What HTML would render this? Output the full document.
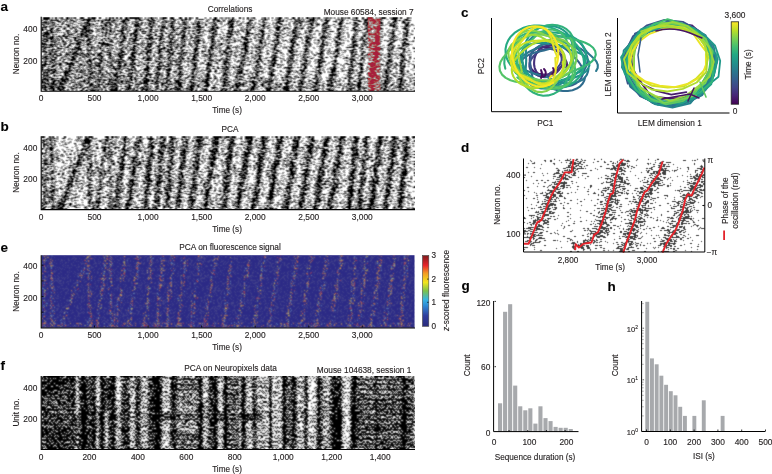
<!DOCTYPE html><html><head><meta charset="utf-8"><style>html,body{margin:0;padding:0;background:#fff;overflow:hidden}svg{display:block}</style></head><body>
<svg width="772" height="474" viewBox="0 0 772 474" font-family="Liberation Sans, sans-serif">
<defs><linearGradient id="ga" gradientUnits="userSpaceOnUse" x1="41" y1="0" x2="415" y2="0"><stop offset="0" stop-color="#000" stop-opacity="0.3"/><stop offset="0.3" stop-color="#000" stop-opacity="0.18"/><stop offset="0.6" stop-color="#000" stop-opacity="0.06"/><stop offset="0.8" stop-color="#000" stop-opacity="0"/></linearGradient><filter id="ra" x="41.5" y="17.2" width="373.5" height="73.8" filterUnits="userSpaceOnUse" color-interpolation-filters="sRGB">
<feTurbulence type="fractalNoise" baseFrequency="0.85 2.3" numOctaves="2" seed="11" result="n0"/>
<feColorMatrix in="n0" type="matrix" values="1 0 0 0 0  1 0 0 0 0  1 0 0 0 0  0 0 0 0 1" result="n1"/>
<feComponentTransfer in="n1" result="n2"><feFuncR type="table" tableValues="1.000 1.000 1.000 1.000 1.000 1.000 0.998 0.995 0.986 0.969 0.942 0.901 0.849 0.783 0.704 0.610 0.516 0.387 0.293 0.215 0.151 0.099 0.061 0.033 0.016 0.007 0.002 0.001 0.000 0.000 0.000 0.000 0.000"/><feFuncG type="table" tableValues="1.000 1.000 1.000 1.000 1.000 1.000 0.998 0.995 0.986 0.969 0.942 0.901 0.849 0.783 0.704 0.610 0.516 0.387 0.293 0.215 0.151 0.099 0.061 0.033 0.016 0.007 0.002 0.001 0.000 0.000 0.000 0.000 0.000"/><feFuncB type="table" tableValues="1.000 1.000 1.000 1.000 1.000 1.000 0.998 0.995 0.986 0.969 0.942 0.901 0.849 0.783 0.704 0.610 0.516 0.387 0.293 0.215 0.151 0.099 0.061 0.033 0.016 0.007 0.002 0.001 0.000 0.000 0.000 0.000 0.000"/></feComponentTransfer>
<feComposite in="SourceGraphic" in2="n2" operator="arithmetic" k1="0" k2="1" k3="1" k4="-0.5" result="d"/>
<feComponentTransfer in="d" result="t"><feFuncR type="discrete" tableValues="0 1"/><feFuncG type="discrete" tableValues="0 1"/><feFuncB type="discrete" tableValues="0 1"/><feFuncA type="linear" slope="0" intercept="1"/></feComponentTransfer>
<feConvolveMatrix in="t" order="3 3" kernelMatrix="1 2 1 4 6 4 1 2 1" divisor="22" edgeMode="duplicate"/>
</filter><filter id="rb" x="41.5" y="136.3" width="373.5" height="73.2" filterUnits="userSpaceOnUse" color-interpolation-filters="sRGB">
<feTurbulence type="fractalNoise" baseFrequency="0.85 2.3" numOctaves="2" seed="23" result="n0"/>
<feColorMatrix in="n0" type="matrix" values="1 0 0 0 0  1 0 0 0 0  1 0 0 0 0  0 0 0 0 1" result="n1"/>
<feComponentTransfer in="n1" result="n2"><feFuncR type="table" tableValues="1.000 1.000 1.000 1.000 1.000 1.000 0.998 0.995 0.986 0.969 0.942 0.901 0.849 0.783 0.704 0.610 0.516 0.387 0.293 0.215 0.151 0.099 0.061 0.033 0.016 0.007 0.002 0.001 0.000 0.000 0.000 0.000 0.000"/><feFuncG type="table" tableValues="1.000 1.000 1.000 1.000 1.000 1.000 0.998 0.995 0.986 0.969 0.942 0.901 0.849 0.783 0.704 0.610 0.516 0.387 0.293 0.215 0.151 0.099 0.061 0.033 0.016 0.007 0.002 0.001 0.000 0.000 0.000 0.000 0.000"/><feFuncB type="table" tableValues="1.000 1.000 1.000 1.000 1.000 1.000 0.998 0.995 0.986 0.969 0.942 0.901 0.849 0.783 0.704 0.610 0.516 0.387 0.293 0.215 0.151 0.099 0.061 0.033 0.016 0.007 0.002 0.001 0.000 0.000 0.000 0.000 0.000"/></feComponentTransfer>
<feComposite in="SourceGraphic" in2="n2" operator="arithmetic" k1="0" k2="1" k3="1" k4="-0.5" result="d"/>
<feComponentTransfer in="d" result="t"><feFuncR type="discrete" tableValues="0 1"/><feFuncG type="discrete" tableValues="0 1"/><feFuncB type="discrete" tableValues="0 1"/><feFuncA type="linear" slope="0" intercept="1"/></feComponentTransfer>
<feConvolveMatrix in="t" order="3 3" kernelMatrix="1 2 1 4 6 4 1 2 1" divisor="22" edgeMode="duplicate"/>
</filter><filter id="se0" x="41.5" y="255.2" width="373.0" height="72.60000000000002" filterUnits="userSpaceOnUse" color-interpolation-filters="sRGB">
<feTurbulence type="fractalNoise" baseFrequency="0.7 1.6" numOctaves="1" seed="3" result="n0"/>
<feColorMatrix in="n0" type="matrix" values="1 0 0 0 0  1 0 0 0 0  1 0 0 0 0  0 0 0 0 1" result="n1"/>
<feComponentTransfer in="n1" result="n2"><feFuncR type="table" tableValues="1.000 1.000 1.000 1.000 1.000 1.000 0.998 0.995 0.986 0.969 0.942 0.901 0.849 0.783 0.704 0.610 0.516 0.387 0.293 0.215 0.151 0.099 0.061 0.033 0.016 0.007 0.002 0.001 0.000 0.000 0.000 0.000 0.000"/><feFuncG type="table" tableValues="1.000 1.000 1.000 1.000 1.000 1.000 0.998 0.995 0.986 0.969 0.942 0.901 0.849 0.783 0.704 0.610 0.516 0.387 0.293 0.215 0.151 0.099 0.061 0.033 0.016 0.007 0.002 0.001 0.000 0.000 0.000 0.000 0.000"/><feFuncB type="table" tableValues="1.000 1.000 1.000 1.000 1.000 1.000 0.998 0.995 0.986 0.969 0.942 0.901 0.849 0.783 0.704 0.610 0.516 0.387 0.293 0.215 0.151 0.099 0.061 0.033 0.016 0.007 0.002 0.001 0.000 0.000 0.000 0.000 0.000"/></feComponentTransfer>
<feComposite in="SourceGraphic" in2="n2" operator="arithmetic" k1="0" k2="1" k3="1" k4="-0.5" result="d"/>
<feComponentTransfer in="d" result="t"><feFuncR type="discrete" tableValues="0 1"/><feFuncG type="discrete" tableValues="0 1"/><feFuncB type="discrete" tableValues="0 1"/><feFuncA type="linear" slope="0" intercept="1"/></feComponentTransfer>
<feColorMatrix in="t" type="matrix" values="0 0 0 0 0.29  0 0 0 0 0.29  0 0 0 0 0.55  -0.85 0 0 0 0.85" result="c"/>
<feConvolveMatrix in="c" order="3" kernelMatrix="1 2 1 2 6 2 1 2 1" divisor="18" edgeMode="none"/>
</filter><filter id="se1" x="41.5" y="255.2" width="373.0" height="72.60000000000002" filterUnits="userSpaceOnUse" color-interpolation-filters="sRGB">
<feTurbulence type="fractalNoise" baseFrequency="0.7 1.6" numOctaves="1" seed="5" result="n0"/>
<feColorMatrix in="n0" type="matrix" values="1 0 0 0 0  1 0 0 0 0  1 0 0 0 0  0 0 0 0 1" result="n1"/>
<feComponentTransfer in="n1" result="n2"><feFuncR type="table" tableValues="1.000 1.000 1.000 1.000 1.000 1.000 0.998 0.995 0.986 0.969 0.942 0.901 0.849 0.783 0.704 0.610 0.516 0.387 0.293 0.215 0.151 0.099 0.061 0.033 0.016 0.007 0.002 0.001 0.000 0.000 0.000 0.000 0.000"/><feFuncG type="table" tableValues="1.000 1.000 1.000 1.000 1.000 1.000 0.998 0.995 0.986 0.969 0.942 0.901 0.849 0.783 0.704 0.610 0.516 0.387 0.293 0.215 0.151 0.099 0.061 0.033 0.016 0.007 0.002 0.001 0.000 0.000 0.000 0.000 0.000"/><feFuncB type="table" tableValues="1.000 1.000 1.000 1.000 1.000 1.000 0.998 0.995 0.986 0.969 0.942 0.901 0.849 0.783 0.704 0.610 0.516 0.387 0.293 0.215 0.151 0.099 0.061 0.033 0.016 0.007 0.002 0.001 0.000 0.000 0.000 0.000 0.000"/></feComponentTransfer>
<feComposite in="SourceGraphic" in2="n2" operator="arithmetic" k1="0" k2="1" k3="1" k4="-0.5" result="d"/>
<feComponentTransfer in="d" result="t"><feFuncR type="discrete" tableValues="0 1"/><feFuncG type="discrete" tableValues="0 1"/><feFuncB type="discrete" tableValues="0 1"/><feFuncA type="linear" slope="0" intercept="1"/></feComponentTransfer>
<feColorMatrix in="t" type="matrix" values="0 0 0 0 0.8  0 0 0 0 0.5  0 0 0 0 0.3  -0.85 0 0 0 0.85" result="c"/>
<feConvolveMatrix in="c" order="3" kernelMatrix="1 2 1 2 6 2 1 2 1" divisor="18" edgeMode="none"/>
</filter><filter id="se2" x="41.5" y="255.2" width="373.0" height="72.60000000000002" filterUnits="userSpaceOnUse" color-interpolation-filters="sRGB">
<feTurbulence type="fractalNoise" baseFrequency="0.7 1.6" numOctaves="1" seed="17" result="n0"/>
<feColorMatrix in="n0" type="matrix" values="1 0 0 0 0  1 0 0 0 0  1 0 0 0 0  0 0 0 0 1" result="n1"/>
<feComponentTransfer in="n1" result="n2"><feFuncR type="table" tableValues="1.000 1.000 1.000 1.000 1.000 1.000 0.998 0.995 0.986 0.969 0.942 0.901 0.849 0.783 0.704 0.610 0.516 0.387 0.293 0.215 0.151 0.099 0.061 0.033 0.016 0.007 0.002 0.001 0.000 0.000 0.000 0.000 0.000"/><feFuncG type="table" tableValues="1.000 1.000 1.000 1.000 1.000 1.000 0.998 0.995 0.986 0.969 0.942 0.901 0.849 0.783 0.704 0.610 0.516 0.387 0.293 0.215 0.151 0.099 0.061 0.033 0.016 0.007 0.002 0.001 0.000 0.000 0.000 0.000 0.000"/><feFuncB type="table" tableValues="1.000 1.000 1.000 1.000 1.000 1.000 0.998 0.995 0.986 0.969 0.942 0.901 0.849 0.783 0.704 0.610 0.516 0.387 0.293 0.215 0.151 0.099 0.061 0.033 0.016 0.007 0.002 0.001 0.000 0.000 0.000 0.000 0.000"/></feComponentTransfer>
<feComposite in="SourceGraphic" in2="n2" operator="arithmetic" k1="0" k2="1" k3="1" k4="-0.5" result="d"/>
<feComponentTransfer in="d" result="t"><feFuncR type="discrete" tableValues="0 1"/><feFuncG type="discrete" tableValues="0 1"/><feFuncB type="discrete" tableValues="0 1"/><feFuncA type="linear" slope="0" intercept="1"/></feComponentTransfer>
<feColorMatrix in="t" type="matrix" values="0 0 0 0 0.4  0 0 0 0 0.55  0 0 0 0 0.72  -0.85 0 0 0 0.85" result="c"/>
<feConvolveMatrix in="c" order="3" kernelMatrix="1 2 1 2 6 2 1 2 1" divisor="18" edgeMode="none"/>
</filter><filter id="se3" x="41.5" y="255.2" width="373.0" height="72.60000000000002" filterUnits="userSpaceOnUse" color-interpolation-filters="sRGB">
<feTurbulence type="fractalNoise" baseFrequency="0.7 1.6" numOctaves="1" seed="29" result="n0"/>
<feColorMatrix in="n0" type="matrix" values="1 0 0 0 0  1 0 0 0 0  1 0 0 0 0  0 0 0 0 1" result="n1"/>
<feComponentTransfer in="n1" result="n2"><feFuncR type="table" tableValues="1.000 1.000 1.000 1.000 1.000 1.000 0.998 0.995 0.986 0.969 0.942 0.901 0.849 0.783 0.704 0.610 0.516 0.387 0.293 0.215 0.151 0.099 0.061 0.033 0.016 0.007 0.002 0.001 0.000 0.000 0.000 0.000 0.000"/><feFuncG type="table" tableValues="1.000 1.000 1.000 1.000 1.000 1.000 0.998 0.995 0.986 0.969 0.942 0.901 0.849 0.783 0.704 0.610 0.516 0.387 0.293 0.215 0.151 0.099 0.061 0.033 0.016 0.007 0.002 0.001 0.000 0.000 0.000 0.000 0.000"/><feFuncB type="table" tableValues="1.000 1.000 1.000 1.000 1.000 1.000 0.998 0.995 0.986 0.969 0.942 0.901 0.849 0.783 0.704 0.610 0.516 0.387 0.293 0.215 0.151 0.099 0.061 0.033 0.016 0.007 0.002 0.001 0.000 0.000 0.000 0.000 0.000"/></feComponentTransfer>
<feComposite in="SourceGraphic" in2="n2" operator="arithmetic" k1="0" k2="1" k3="1" k4="-0.5" result="d"/>
<feComponentTransfer in="d" result="t"><feFuncR type="discrete" tableValues="0 1"/><feFuncG type="discrete" tableValues="0 1"/><feFuncB type="discrete" tableValues="0 1"/><feFuncA type="linear" slope="0" intercept="1"/></feComponentTransfer>
<feColorMatrix in="t" type="matrix" values="0 0 0 0 0.75  0 0 0 0 0.25  0 0 0 0 0.3  -0.85 0 0 0 0.85" result="c"/>
<feConvolveMatrix in="c" order="3" kernelMatrix="1 2 1 2 6 2 1 2 1" divisor="18" edgeMode="none"/>
</filter><filter id="se4" x="41.5" y="255.2" width="373.0" height="72.60000000000002" filterUnits="userSpaceOnUse" color-interpolation-filters="sRGB">
<feTurbulence type="fractalNoise" baseFrequency="0.7 1.6" numOctaves="1" seed="31" result="n0"/>
<feColorMatrix in="n0" type="matrix" values="1 0 0 0 0  1 0 0 0 0  1 0 0 0 0  0 0 0 0 1" result="n1"/>
<feComponentTransfer in="n1" result="n2"><feFuncR type="table" tableValues="1.000 1.000 1.000 1.000 1.000 1.000 0.998 0.995 0.986 0.969 0.942 0.901 0.849 0.783 0.704 0.610 0.516 0.387 0.293 0.215 0.151 0.099 0.061 0.033 0.016 0.007 0.002 0.001 0.000 0.000 0.000 0.000 0.000"/><feFuncG type="table" tableValues="1.000 1.000 1.000 1.000 1.000 1.000 0.998 0.995 0.986 0.969 0.942 0.901 0.849 0.783 0.704 0.610 0.516 0.387 0.293 0.215 0.151 0.099 0.061 0.033 0.016 0.007 0.002 0.001 0.000 0.000 0.000 0.000 0.000"/><feFuncB type="table" tableValues="1.000 1.000 1.000 1.000 1.000 1.000 0.998 0.995 0.986 0.969 0.942 0.901 0.849 0.783 0.704 0.610 0.516 0.387 0.293 0.215 0.151 0.099 0.061 0.033 0.016 0.007 0.002 0.001 0.000 0.000 0.000 0.000 0.000"/></feComponentTransfer>
<feComposite in="SourceGraphic" in2="n2" operator="arithmetic" k1="0" k2="1" k3="1" k4="-0.5" result="d"/>
<feComponentTransfer in="d" result="t"><feFuncR type="discrete" tableValues="0 1"/><feFuncG type="discrete" tableValues="0 1"/><feFuncB type="discrete" tableValues="0 1"/><feFuncA type="linear" slope="0" intercept="1"/></feComponentTransfer>
<feColorMatrix in="t" type="matrix" values="0 0 0 0 0.75  0 0 0 0 0.72  0 0 0 0 0.35  -0.85 0 0 0 0.85" result="c"/>
<feConvolveMatrix in="c" order="3" kernelMatrix="1 2 1 2 6 2 1 2 1" divisor="18" edgeMode="none"/>
</filter><linearGradient id="jet" x1="0" y1="1" x2="0" y2="0">
<stop offset="0" stop-color="#2a2a7c"/><stop offset="0.15" stop-color="#2f3e9e"/><stop offset="0.3" stop-color="#2f8fd8"/>
<stop offset="0.38" stop-color="#38b6e0"/><stop offset="0.5" stop-color="#7cc24a"/><stop offset="0.62" stop-color="#f2e51c"/>
<stop offset="0.75" stop-color="#f39a22"/><stop offset="0.86" stop-color="#e8242a"/><stop offset="1" stop-color="#7e1a1c"/></linearGradient><filter id="rf" x="41.5" y="376" width="373.5" height="73.19999999999999" filterUnits="userSpaceOnUse" color-interpolation-filters="sRGB">
<feTurbulence type="fractalNoise" baseFrequency="1.0 0.6" numOctaves="2" seed="37" result="n0"/>
<feColorMatrix in="n0" type="matrix" values="1 0 0 0 0  1 0 0 0 0  1 0 0 0 0  0 0 0 0 1" result="n1"/>
<feComponentTransfer in="n1" result="n2"><feFuncR type="table" tableValues="1.000 1.000 1.000 1.000 1.000 1.000 0.998 0.995 0.986 0.969 0.942 0.901 0.849 0.783 0.704 0.610 0.516 0.387 0.293 0.215 0.151 0.099 0.061 0.033 0.016 0.007 0.002 0.001 0.000 0.000 0.000 0.000 0.000"/><feFuncG type="table" tableValues="1.000 1.000 1.000 1.000 1.000 1.000 0.998 0.995 0.986 0.969 0.942 0.901 0.849 0.783 0.704 0.610 0.516 0.387 0.293 0.215 0.151 0.099 0.061 0.033 0.016 0.007 0.002 0.001 0.000 0.000 0.000 0.000 0.000"/><feFuncB type="table" tableValues="1.000 1.000 1.000 1.000 1.000 1.000 0.998 0.995 0.986 0.969 0.942 0.901 0.849 0.783 0.704 0.610 0.516 0.387 0.293 0.215 0.151 0.099 0.061 0.033 0.016 0.007 0.002 0.001 0.000 0.000 0.000 0.000 0.000"/></feComponentTransfer>
<feComposite in="SourceGraphic" in2="n2" operator="arithmetic" k1="0" k2="1" k3="1" k4="-0.5" result="d"/>
<feComponentTransfer in="d" result="t"><feFuncR type="discrete" tableValues="0 1"/><feFuncG type="discrete" tableValues="0 1"/><feFuncB type="discrete" tableValues="0 1"/><feFuncA type="linear" slope="0" intercept="1"/></feComponentTransfer>
<feConvolveMatrix in="t" order="3" kernelMatrix="1 2 1 2 6 2 1 2 1" divisor="18" edgeMode="duplicate"/>
</filter><linearGradient id="vir" x1="0" y1="1" x2="0" y2="0"><stop offset="0.0" stop-color="#440154"/><stop offset="0.1" stop-color="#482475"/><stop offset="0.2" stop-color="#414487"/><stop offset="0.3" stop-color="#355f8d"/><stop offset="0.4" stop-color="#2a788e"/><stop offset="0.5" stop-color="#21918c"/><stop offset="0.6" stop-color="#22a884"/><stop offset="0.7" stop-color="#44bf70"/><stop offset="0.8" stop-color="#7ad151"/><stop offset="0.9" stop-color="#bddf26"/><stop offset="1.0" stop-color="#fde725"/></linearGradient><filter id="rd" x="524" y="158.7" width="180.5" height="93.3" filterUnits="userSpaceOnUse" color-interpolation-filters="sRGB">
<feTurbulence type="fractalNoise" baseFrequency="0.3 1.6" numOctaves="2" seed="41" result="n0"/>
<feColorMatrix in="n0" type="matrix" values="1 0 0 0 0  1 0 0 0 0  1 0 0 0 0  0 0 0 0 1" result="n1"/>
<feComponentTransfer in="n1" result="n2"><feFuncR type="table" tableValues="1.000 1.000 1.000 1.000 1.000 1.000 0.998 0.995 0.986 0.969 0.942 0.901 0.849 0.783 0.704 0.610 0.516 0.387 0.293 0.215 0.151 0.099 0.061 0.033 0.016 0.007 0.002 0.001 0.000 0.000 0.000 0.000 0.000"/><feFuncG type="table" tableValues="1.000 1.000 1.000 1.000 1.000 1.000 0.998 0.995 0.986 0.969 0.942 0.901 0.849 0.783 0.704 0.610 0.516 0.387 0.293 0.215 0.151 0.099 0.061 0.033 0.016 0.007 0.002 0.001 0.000 0.000 0.000 0.000 0.000"/><feFuncB type="table" tableValues="1.000 1.000 1.000 1.000 1.000 1.000 0.998 0.995 0.986 0.969 0.942 0.901 0.849 0.783 0.704 0.610 0.516 0.387 0.293 0.215 0.151 0.099 0.061 0.033 0.016 0.007 0.002 0.001 0.000 0.000 0.000 0.000 0.000"/></feComponentTransfer>
<feComposite in="SourceGraphic" in2="n2" operator="arithmetic" k1="0" k2="1" k3="1" k4="-0.5" result="d"/>
<feComponentTransfer in="d" result="t"><feFuncR type="discrete" tableValues="0 1"/><feFuncG type="discrete" tableValues="0 1"/><feFuncB type="discrete" tableValues="0 1"/><feFuncA type="linear" slope="0" intercept="1"/></feComponentTransfer>
<feConvolveMatrix in="t" order="3" kernelMatrix="0 1 0 1 6 1 0 1 0" divisor="10" edgeMode="duplicate"/>
</filter><filter id="blur8" x="-10%" y="-10%" width="120%" height="120%"><feGaussianBlur stdDeviation="0.8"/></filter><filter id="blur12" x="-10%" y="-10%" width="120%" height="120%"><feGaussianBlur stdDeviation="1.2"/></filter><filter id="blur35" x="-10%" y="-10%" width="120%" height="120%"><feGaussianBlur stdDeviation="3.5"/></filter><filter id="blur10" x="-10%" y="-10%" width="120%" height="120%"><feGaussianBlur stdDeviation="1.0"/></filter></defs>
<rect width="772" height="474" fill="#fff"/><svg x="41.5" y="17.2" width="373.5" height="73.8" viewBox="41.5 17.2 373.5 73.8" overflow="hidden"><g filter="url(#ra)"><rect x="36.5" y="12.2" width="383.5" height="83.8" fill="rgb(212,212,212)"/><g filter="url(#blur12)"><polygon points="42.0,94.0 47.0,94.0 47.0,14.2 42.0,14.2" fill="#000" fill-opacity="0.4675"/><polygon points="51.1,94.0 55.1,94.0 52.9,14.2 48.9,14.2" fill="#000" fill-opacity="0.51"/><polygon points="56.1,94.0 61.6,94.0 92.9,14.2 87.4,14.2" fill="#000" fill-opacity="0.68"/><polygon points="88.8,94.0 92.3,94.0 90.2,14.2 86.7,14.2" fill="#000" fill-opacity="0.5525"/><polygon points="94.6,94.0 98.6,94.0 108.4,14.2 104.4,14.2" fill="#000" fill-opacity="0.51"/><polygon points="109.5,94.0 112.5,94.0 111.5,14.2 108.5,14.2" fill="#000" fill-opacity="0.51"/><polygon points="112.8,94.0 117.3,94.0 128.2,14.2 123.7,14.2" fill="#000" fill-opacity="0.68"/><polygon points="125.8,94.0 130.3,94.0 141.2,14.2 136.7,14.2" fill="#000" fill-opacity="0.7224999999999999"/><polygon points="142.5,94.0 147.0,94.0 154.5,14.2 150.0,14.2" fill="#000" fill-opacity="0.68"/><polygon points="154.2,94.0 158.2,94.0 165.3,14.2 161.3,14.2" fill="#000" fill-opacity="0.68"/><polygon points="164.2,94.0 168.2,94.0 175.3,14.2 171.3,14.2" fill="#000" fill-opacity="0.68"/><polygon points="175.4,94.0 179.9,94.0 188.1,14.2 183.6,14.2" fill="#000" fill-opacity="0.7224999999999999"/><polygon points="188.4,94.0 192.9,94.0 202.6,14.2 198.1,14.2" fill="#000" fill-opacity="0.7224999999999999"/><polygon points="202.3,94.0 206.8,94.0 218.7,14.2 214.2,14.2" fill="#000" fill-opacity="0.765"/><polygon points="220.9,94.0 225.4,94.0 234.6,14.2 230.1,14.2" fill="#000" fill-opacity="0.765"/><polygon points="234.2,94.0 238.7,94.0 253.3,14.2 248.8,14.2" fill="#000" fill-opacity="0.765"/><polygon points="250.8,94.0 255.3,94.0 267.7,14.2 263.2,14.2" fill="#000" fill-opacity="0.765"/><polygon points="265.8,94.0 270.3,94.0 282.7,14.2 278.2,14.2" fill="#000" fill-opacity="0.765"/><polygon points="283.3,94.0 287.8,94.0 300.2,14.2 295.7,14.2" fill="#000" fill-opacity="0.765"/><polygon points="297.8,94.0 302.3,94.0 314.7,14.2 310.2,14.2" fill="#000" fill-opacity="0.765"/><polygon points="312.8,94.0 317.3,94.0 329.7,14.2 325.2,14.2" fill="#000" fill-opacity="0.765"/><polygon points="327.3,94.0 331.8,94.0 344.7,14.2 340.2,14.2" fill="#000" fill-opacity="0.765"/><polygon points="346.4,94.0 350.9,94.0 359.1,14.2 354.6,14.2" fill="#000" fill-opacity="0.765"/><polygon points="356.7,94.0 360.7,94.0 369.3,14.2 365.3,14.2" fill="#000" fill-opacity="0.7224999999999999"/><polygon points="368.4,94.0 372.9,94.0 383.1,14.2 378.6,14.2" fill="#000" fill-opacity="0.765"/><polygon points="382.3,94.0 386.8,94.0 397.7,14.2 393.2,14.2" fill="#000" fill-opacity="0.765"/><polygon points="397.5,94.0 402.0,94.0 409.5,14.2 405.0,14.2" fill="#000" fill-opacity="0.765"/></g><rect x="41.5" y="79.0" width="373.5" height="12" fill="#000" fill-opacity="0.15" filter="url(#blur12)"/><rect x="36.5" y="12.2" width="383.5" height="83.8" fill="url(#ga)"/><rect x="41.5" y="17.2" width="373.5" height="4" fill="#000" fill-opacity="0.06"/><rect x="367.7" y="17.2" width="12.8" height="73.8" fill="#000" fill-opacity="0.45"/></g></svg><rect x="367.7" y="17.2" width="12.8" height="73.8" fill="#a81f3d" style="mix-blend-mode:lighten"/><svg x="41.5" y="136.3" width="373.5" height="73.2" viewBox="41.5 136.3 373.5 73.2" overflow="hidden"><g filter="url(#rb)"><rect x="36.5" y="131.3" width="383.5" height="83.2" fill="rgb(199,199,199)"/><g filter="url(#blur12)"><polygon points="41.5,212.5 47.5,212.5 47.5,133.3 41.5,133.3" fill="#000" fill-opacity="0.49500000000000005"/><polygon points="50.6,212.5 55.6,212.5 53.4,133.3 48.4,133.3" fill="#000" fill-opacity="0.54"/><polygon points="55.6,212.5 62.1,212.5 93.4,133.3 86.9,133.3" fill="#000" fill-opacity="0.7200000000000001"/><polygon points="88.3,212.5 92.8,212.5 90.7,133.3 86.2,133.3" fill="#000" fill-opacity="0.5850000000000001"/><polygon points="94.1,212.5 99.1,212.5 108.9,133.3 103.9,133.3" fill="#000" fill-opacity="0.54"/><polygon points="109.0,212.5 113.0,212.5 112.0,133.3 108.0,133.3" fill="#000" fill-opacity="0.54"/><polygon points="112.3,212.5 117.8,212.5 128.7,133.3 123.2,133.3" fill="#000" fill-opacity="0.7200000000000001"/><polygon points="125.3,212.5 130.8,212.5 141.7,133.3 136.2,133.3" fill="#000" fill-opacity="0.765"/><polygon points="142.0,212.5 147.5,212.5 155.0,133.3 149.5,133.3" fill="#000" fill-opacity="0.7200000000000001"/><polygon points="153.7,212.5 158.7,212.5 165.8,133.3 160.8,133.3" fill="#000" fill-opacity="0.7200000000000001"/><polygon points="163.7,212.5 168.7,212.5 175.8,133.3 170.8,133.3" fill="#000" fill-opacity="0.7200000000000001"/><polygon points="174.9,212.5 180.4,212.5 188.6,133.3 183.1,133.3" fill="#000" fill-opacity="0.765"/><polygon points="187.9,212.5 193.4,212.5 203.1,133.3 197.6,133.3" fill="#000" fill-opacity="0.765"/><polygon points="201.8,212.5 207.3,212.5 219.2,133.3 213.7,133.3" fill="#000" fill-opacity="0.81"/><polygon points="220.4,212.5 225.9,212.5 235.1,133.3 229.6,133.3" fill="#000" fill-opacity="0.81"/><polygon points="233.7,212.5 239.2,212.5 253.8,133.3 248.3,133.3" fill="#000" fill-opacity="0.81"/><polygon points="250.3,212.5 255.8,212.5 268.2,133.3 262.7,133.3" fill="#000" fill-opacity="0.81"/><polygon points="265.3,212.5 270.8,212.5 283.2,133.3 277.7,133.3" fill="#000" fill-opacity="0.81"/><polygon points="282.8,212.5 288.3,212.5 300.7,133.3 295.2,133.3" fill="#000" fill-opacity="0.81"/><polygon points="297.3,212.5 302.8,212.5 315.2,133.3 309.7,133.3" fill="#000" fill-opacity="0.81"/><polygon points="312.3,212.5 317.8,212.5 330.2,133.3 324.7,133.3" fill="#000" fill-opacity="0.81"/><polygon points="326.8,212.5 332.3,212.5 345.2,133.3 339.7,133.3" fill="#000" fill-opacity="0.81"/><polygon points="345.9,212.5 351.4,212.5 359.6,133.3 354.1,133.3" fill="#000" fill-opacity="0.81"/><polygon points="356.2,212.5 361.2,212.5 369.8,133.3 364.8,133.3" fill="#000" fill-opacity="0.765"/><polygon points="367.9,212.5 373.4,212.5 383.6,133.3 378.1,133.3" fill="#000" fill-opacity="0.81"/><polygon points="381.8,212.5 387.3,212.5 398.2,133.3 392.7,133.3" fill="#000" fill-opacity="0.81"/><polygon points="397.0,212.5 402.5,212.5 410.0,133.3 404.5,133.3" fill="#000" fill-opacity="0.81"/></g></g></svg><path d="M41.2 16.8 V91.2 H415" stroke="#000" stroke-width="1.1" fill="none"/><path d="M41.2 136.3 V209.6 H415" stroke="#000" stroke-width="1.1" fill="none"/><rect x="41.5" y="255.2" width="373.0" height="72.60000000000002" fill="#2c2a86"/><svg x="41.5" y="255.2" width="373.0" height="72.60000000000002" viewBox="41.5 255.2 373.0 72.60000000000002" overflow="hidden"><g filter="url(#se0)"><rect x="36.5" y="250.2" width="383.0" height="82.60000000000002" fill="rgb(198,198,198)"/></g></svg><svg x="41.5" y="255.2" width="373.0" height="72.60000000000002" viewBox="41.5 255.2 373.0 72.60000000000002" overflow="hidden"><g filter="url(#se1)"><rect x="36.5" y="250.2" width="383.0" height="82.60000000000002" fill="#fff"/><g filter="url(#blur10)"><polygon points="42.9,330.8 46.1,330.8 46.1,252.2 42.9,252.2" fill="#000" fill-opacity="0.198"/><polygon points="51.5,330.8 54.7,330.8 52.5,252.2 49.3,252.2" fill="#000" fill-opacity="0.198"/><polygon points="57.2,330.8 60.4,330.8 91.8,252.2 88.6,252.2" fill="#000" fill-opacity="0.198"/><polygon points="89.0,330.8 92.2,330.8 90.0,252.2 86.8,252.2" fill="#000" fill-opacity="0.198"/><polygon points="95.0,330.8 98.2,330.8 108.0,252.2 104.8,252.2" fill="#000" fill-opacity="0.198"/><polygon points="109.4,330.8 112.6,330.8 111.6,252.2 108.4,252.2" fill="#000" fill-opacity="0.198"/><polygon points="113.5,330.8 116.7,330.8 127.5,252.2 124.3,252.2" fill="#000" fill-opacity="0.198"/><polygon points="126.5,330.8 129.7,330.8 140.5,252.2 137.3,252.2" fill="#000" fill-opacity="0.198"/><polygon points="143.1,330.8 146.3,330.8 153.9,252.2 150.7,252.2" fill="#000" fill-opacity="0.198"/><polygon points="154.6,330.8 157.8,330.8 164.9,252.2 161.7,252.2" fill="#000" fill-opacity="0.198"/><polygon points="164.6,330.8 167.8,330.8 174.9,252.2 171.7,252.2" fill="#000" fill-opacity="0.198"/><polygon points="176.1,330.8 179.3,330.8 187.4,252.2 184.2,252.2" fill="#000" fill-opacity="0.198"/><polygon points="189.0,330.8 192.2,330.8 202.0,252.2 198.8,252.2" fill="#000" fill-opacity="0.198"/><polygon points="202.9,330.8 206.1,330.8 218.1,252.2 214.9,252.2" fill="#000" fill-opacity="0.198"/><polygon points="221.5,330.8 224.7,330.8 234.0,252.2 230.8,252.2" fill="#000" fill-opacity="0.198"/><polygon points="234.8,330.8 238.0,330.8 252.7,252.2 249.5,252.2" fill="#000" fill-opacity="0.198"/><polygon points="251.4,330.8 254.6,330.8 267.1,252.2 263.9,252.2" fill="#000" fill-opacity="0.198"/><polygon points="266.4,330.8 269.6,330.8 282.1,252.2 278.9,252.2" fill="#000" fill-opacity="0.198"/><polygon points="283.9,330.8 287.1,330.8 299.6,252.2 296.4,252.2" fill="#000" fill-opacity="0.198"/><polygon points="298.4,330.8 301.6,330.8 314.1,252.2 310.9,252.2" fill="#000" fill-opacity="0.198"/><polygon points="313.4,330.8 316.6,330.8 329.1,252.2 325.9,252.2" fill="#000" fill-opacity="0.198"/><polygon points="327.9,330.8 331.1,330.8 344.1,252.2 340.9,252.2" fill="#000" fill-opacity="0.198"/><polygon points="347.1,330.8 350.3,330.8 358.4,252.2 355.2,252.2" fill="#000" fill-opacity="0.198"/><polygon points="357.1,330.8 360.3,330.8 368.9,252.2 365.7,252.2" fill="#000" fill-opacity="0.198"/><polygon points="369.0,330.8 372.2,330.8 382.5,252.2 379.3,252.2" fill="#000" fill-opacity="0.198"/><polygon points="383.0,330.8 386.2,330.8 397.0,252.2 393.8,252.2" fill="#000" fill-opacity="0.198"/><polygon points="398.1,330.8 401.3,330.8 408.9,252.2 405.7,252.2" fill="#000" fill-opacity="0.198"/></g><rect x="41.5" y="322.8" width="373.0" height="5" fill="#000" fill-opacity="0.072"/></g></svg><svg x="41.5" y="255.2" width="373.0" height="72.60000000000002" viewBox="41.5 255.2 373.0 72.60000000000002" overflow="hidden"><g filter="url(#se2)"><rect x="36.5" y="250.2" width="383.0" height="82.60000000000002" fill="#fff"/><g filter="url(#blur10)"><polygon points="42.9,330.8 46.1,330.8 46.1,252.2 42.9,252.2" fill="#000" fill-opacity="0.17600000000000002"/><polygon points="51.5,330.8 54.7,330.8 52.5,252.2 49.3,252.2" fill="#000" fill-opacity="0.17600000000000002"/><polygon points="57.2,330.8 60.4,330.8 91.8,252.2 88.6,252.2" fill="#000" fill-opacity="0.17600000000000002"/><polygon points="89.0,330.8 92.2,330.8 90.0,252.2 86.8,252.2" fill="#000" fill-opacity="0.17600000000000002"/><polygon points="95.0,330.8 98.2,330.8 108.0,252.2 104.8,252.2" fill="#000" fill-opacity="0.17600000000000002"/><polygon points="109.4,330.8 112.6,330.8 111.6,252.2 108.4,252.2" fill="#000" fill-opacity="0.17600000000000002"/><polygon points="113.5,330.8 116.7,330.8 127.5,252.2 124.3,252.2" fill="#000" fill-opacity="0.17600000000000002"/><polygon points="126.5,330.8 129.7,330.8 140.5,252.2 137.3,252.2" fill="#000" fill-opacity="0.17600000000000002"/><polygon points="143.1,330.8 146.3,330.8 153.9,252.2 150.7,252.2" fill="#000" fill-opacity="0.17600000000000002"/><polygon points="154.6,330.8 157.8,330.8 164.9,252.2 161.7,252.2" fill="#000" fill-opacity="0.17600000000000002"/><polygon points="164.6,330.8 167.8,330.8 174.9,252.2 171.7,252.2" fill="#000" fill-opacity="0.17600000000000002"/><polygon points="176.1,330.8 179.3,330.8 187.4,252.2 184.2,252.2" fill="#000" fill-opacity="0.17600000000000002"/><polygon points="189.0,330.8 192.2,330.8 202.0,252.2 198.8,252.2" fill="#000" fill-opacity="0.17600000000000002"/><polygon points="202.9,330.8 206.1,330.8 218.1,252.2 214.9,252.2" fill="#000" fill-opacity="0.17600000000000002"/><polygon points="221.5,330.8 224.7,330.8 234.0,252.2 230.8,252.2" fill="#000" fill-opacity="0.17600000000000002"/><polygon points="234.8,330.8 238.0,330.8 252.7,252.2 249.5,252.2" fill="#000" fill-opacity="0.17600000000000002"/><polygon points="251.4,330.8 254.6,330.8 267.1,252.2 263.9,252.2" fill="#000" fill-opacity="0.17600000000000002"/><polygon points="266.4,330.8 269.6,330.8 282.1,252.2 278.9,252.2" fill="#000" fill-opacity="0.17600000000000002"/><polygon points="283.9,330.8 287.1,330.8 299.6,252.2 296.4,252.2" fill="#000" fill-opacity="0.17600000000000002"/><polygon points="298.4,330.8 301.6,330.8 314.1,252.2 310.9,252.2" fill="#000" fill-opacity="0.17600000000000002"/><polygon points="313.4,330.8 316.6,330.8 329.1,252.2 325.9,252.2" fill="#000" fill-opacity="0.17600000000000002"/><polygon points="327.9,330.8 331.1,330.8 344.1,252.2 340.9,252.2" fill="#000" fill-opacity="0.17600000000000002"/><polygon points="347.1,330.8 350.3,330.8 358.4,252.2 355.2,252.2" fill="#000" fill-opacity="0.17600000000000002"/><polygon points="357.1,330.8 360.3,330.8 368.9,252.2 365.7,252.2" fill="#000" fill-opacity="0.17600000000000002"/><polygon points="369.0,330.8 372.2,330.8 382.5,252.2 379.3,252.2" fill="#000" fill-opacity="0.17600000000000002"/><polygon points="383.0,330.8 386.2,330.8 397.0,252.2 393.8,252.2" fill="#000" fill-opacity="0.17600000000000002"/><polygon points="398.1,330.8 401.3,330.8 408.9,252.2 405.7,252.2" fill="#000" fill-opacity="0.17600000000000002"/></g><rect x="41.5" y="322.8" width="373.0" height="5" fill="#000" fill-opacity="0.064"/></g></svg><svg x="41.5" y="255.2" width="373.0" height="72.60000000000002" viewBox="41.5 255.2 373.0 72.60000000000002" overflow="hidden"><g filter="url(#se3)"><rect x="36.5" y="250.2" width="383.0" height="82.60000000000002" fill="#fff"/><g filter="url(#blur10)"><polygon points="42.9,330.8 46.1,330.8 46.1,252.2 42.9,252.2" fill="#000" fill-opacity="0.11000000000000001"/><polygon points="51.5,330.8 54.7,330.8 52.5,252.2 49.3,252.2" fill="#000" fill-opacity="0.11000000000000001"/><polygon points="57.2,330.8 60.4,330.8 91.8,252.2 88.6,252.2" fill="#000" fill-opacity="0.11000000000000001"/><polygon points="89.0,330.8 92.2,330.8 90.0,252.2 86.8,252.2" fill="#000" fill-opacity="0.11000000000000001"/><polygon points="95.0,330.8 98.2,330.8 108.0,252.2 104.8,252.2" fill="#000" fill-opacity="0.11000000000000001"/><polygon points="109.4,330.8 112.6,330.8 111.6,252.2 108.4,252.2" fill="#000" fill-opacity="0.11000000000000001"/><polygon points="113.5,330.8 116.7,330.8 127.5,252.2 124.3,252.2" fill="#000" fill-opacity="0.11000000000000001"/><polygon points="126.5,330.8 129.7,330.8 140.5,252.2 137.3,252.2" fill="#000" fill-opacity="0.11000000000000001"/><polygon points="143.1,330.8 146.3,330.8 153.9,252.2 150.7,252.2" fill="#000" fill-opacity="0.11000000000000001"/><polygon points="154.6,330.8 157.8,330.8 164.9,252.2 161.7,252.2" fill="#000" fill-opacity="0.11000000000000001"/><polygon points="164.6,330.8 167.8,330.8 174.9,252.2 171.7,252.2" fill="#000" fill-opacity="0.11000000000000001"/><polygon points="176.1,330.8 179.3,330.8 187.4,252.2 184.2,252.2" fill="#000" fill-opacity="0.11000000000000001"/><polygon points="189.0,330.8 192.2,330.8 202.0,252.2 198.8,252.2" fill="#000" fill-opacity="0.11000000000000001"/><polygon points="202.9,330.8 206.1,330.8 218.1,252.2 214.9,252.2" fill="#000" fill-opacity="0.11000000000000001"/><polygon points="221.5,330.8 224.7,330.8 234.0,252.2 230.8,252.2" fill="#000" fill-opacity="0.11000000000000001"/><polygon points="234.8,330.8 238.0,330.8 252.7,252.2 249.5,252.2" fill="#000" fill-opacity="0.11000000000000001"/><polygon points="251.4,330.8 254.6,330.8 267.1,252.2 263.9,252.2" fill="#000" fill-opacity="0.11000000000000001"/><polygon points="266.4,330.8 269.6,330.8 282.1,252.2 278.9,252.2" fill="#000" fill-opacity="0.11000000000000001"/><polygon points="283.9,330.8 287.1,330.8 299.6,252.2 296.4,252.2" fill="#000" fill-opacity="0.11000000000000001"/><polygon points="298.4,330.8 301.6,330.8 314.1,252.2 310.9,252.2" fill="#000" fill-opacity="0.11000000000000001"/><polygon points="313.4,330.8 316.6,330.8 329.1,252.2 325.9,252.2" fill="#000" fill-opacity="0.11000000000000001"/><polygon points="327.9,330.8 331.1,330.8 344.1,252.2 340.9,252.2" fill="#000" fill-opacity="0.11000000000000001"/><polygon points="347.1,330.8 350.3,330.8 358.4,252.2 355.2,252.2" fill="#000" fill-opacity="0.11000000000000001"/><polygon points="357.1,330.8 360.3,330.8 368.9,252.2 365.7,252.2" fill="#000" fill-opacity="0.11000000000000001"/><polygon points="369.0,330.8 372.2,330.8 382.5,252.2 379.3,252.2" fill="#000" fill-opacity="0.11000000000000001"/><polygon points="383.0,330.8 386.2,330.8 397.0,252.2 393.8,252.2" fill="#000" fill-opacity="0.11000000000000001"/><polygon points="398.1,330.8 401.3,330.8 408.9,252.2 405.7,252.2" fill="#000" fill-opacity="0.11000000000000001"/></g><rect x="41.5" y="322.8" width="373.0" height="5" fill="#000" fill-opacity="0.04000000000000001"/></g></svg><svg x="41.5" y="255.2" width="373.0" height="72.60000000000002" viewBox="41.5 255.2 373.0 72.60000000000002" overflow="hidden"><g filter="url(#se4)"><rect x="36.5" y="250.2" width="383.0" height="82.60000000000002" fill="#fff"/><g filter="url(#blur10)"><polygon points="42.9,330.8 46.1,330.8 46.1,252.2 42.9,252.2" fill="#000" fill-opacity="0.08800000000000001"/><polygon points="51.5,330.8 54.7,330.8 52.5,252.2 49.3,252.2" fill="#000" fill-opacity="0.08800000000000001"/><polygon points="57.2,330.8 60.4,330.8 91.8,252.2 88.6,252.2" fill="#000" fill-opacity="0.08800000000000001"/><polygon points="89.0,330.8 92.2,330.8 90.0,252.2 86.8,252.2" fill="#000" fill-opacity="0.08800000000000001"/><polygon points="95.0,330.8 98.2,330.8 108.0,252.2 104.8,252.2" fill="#000" fill-opacity="0.08800000000000001"/><polygon points="109.4,330.8 112.6,330.8 111.6,252.2 108.4,252.2" fill="#000" fill-opacity="0.08800000000000001"/><polygon points="113.5,330.8 116.7,330.8 127.5,252.2 124.3,252.2" fill="#000" fill-opacity="0.08800000000000001"/><polygon points="126.5,330.8 129.7,330.8 140.5,252.2 137.3,252.2" fill="#000" fill-opacity="0.08800000000000001"/><polygon points="143.1,330.8 146.3,330.8 153.9,252.2 150.7,252.2" fill="#000" fill-opacity="0.08800000000000001"/><polygon points="154.6,330.8 157.8,330.8 164.9,252.2 161.7,252.2" fill="#000" fill-opacity="0.08800000000000001"/><polygon points="164.6,330.8 167.8,330.8 174.9,252.2 171.7,252.2" fill="#000" fill-opacity="0.08800000000000001"/><polygon points="176.1,330.8 179.3,330.8 187.4,252.2 184.2,252.2" fill="#000" fill-opacity="0.08800000000000001"/><polygon points="189.0,330.8 192.2,330.8 202.0,252.2 198.8,252.2" fill="#000" fill-opacity="0.08800000000000001"/><polygon points="202.9,330.8 206.1,330.8 218.1,252.2 214.9,252.2" fill="#000" fill-opacity="0.08800000000000001"/><polygon points="221.5,330.8 224.7,330.8 234.0,252.2 230.8,252.2" fill="#000" fill-opacity="0.08800000000000001"/><polygon points="234.8,330.8 238.0,330.8 252.7,252.2 249.5,252.2" fill="#000" fill-opacity="0.08800000000000001"/><polygon points="251.4,330.8 254.6,330.8 267.1,252.2 263.9,252.2" fill="#000" fill-opacity="0.08800000000000001"/><polygon points="266.4,330.8 269.6,330.8 282.1,252.2 278.9,252.2" fill="#000" fill-opacity="0.08800000000000001"/><polygon points="283.9,330.8 287.1,330.8 299.6,252.2 296.4,252.2" fill="#000" fill-opacity="0.08800000000000001"/><polygon points="298.4,330.8 301.6,330.8 314.1,252.2 310.9,252.2" fill="#000" fill-opacity="0.08800000000000001"/><polygon points="313.4,330.8 316.6,330.8 329.1,252.2 325.9,252.2" fill="#000" fill-opacity="0.08800000000000001"/><polygon points="327.9,330.8 331.1,330.8 344.1,252.2 340.9,252.2" fill="#000" fill-opacity="0.08800000000000001"/><polygon points="347.1,330.8 350.3,330.8 358.4,252.2 355.2,252.2" fill="#000" fill-opacity="0.08800000000000001"/><polygon points="357.1,330.8 360.3,330.8 368.9,252.2 365.7,252.2" fill="#000" fill-opacity="0.08800000000000001"/><polygon points="369.0,330.8 372.2,330.8 382.5,252.2 379.3,252.2" fill="#000" fill-opacity="0.08800000000000001"/><polygon points="383.0,330.8 386.2,330.8 397.0,252.2 393.8,252.2" fill="#000" fill-opacity="0.08800000000000001"/><polygon points="398.1,330.8 401.3,330.8 408.9,252.2 405.7,252.2" fill="#000" fill-opacity="0.08800000000000001"/></g><rect x="41.5" y="322.8" width="373.0" height="5" fill="#000" fill-opacity="0.032"/></g></svg><path d="M41.2 255.2 V328 H415" stroke="#000" stroke-width="1.1" fill="none"/><path d="M41.5 312.2 h2" stroke="#000" stroke-width="0.8"/><path d="M41.5 296.5 h2" stroke="#000" stroke-width="0.8"/><path d="M41.5 280.9 h2" stroke="#000" stroke-width="0.8"/><path d="M41.5 265.2 h2" stroke="#000" stroke-width="0.8"/><path d="M94.5 327.5 v-2" stroke="#000" stroke-width="0.8"/><path d="M148.1 327.5 v-2" stroke="#000" stroke-width="0.8"/><path d="M201.6 327.5 v-2" stroke="#000" stroke-width="0.8"/><path d="M255.2 327.5 v-2" stroke="#000" stroke-width="0.8"/><path d="M308.8 327.5 v-2" stroke="#000" stroke-width="0.8"/><path d="M362.3 327.5 v-2" stroke="#000" stroke-width="0.8"/><rect x="422.5" y="255.5" width="6.3" height="70.8" fill="url(#jet)" stroke="#444" stroke-width="0.6"/><path d="M428.6 302.3 h-1.5" stroke="#000" stroke-width="0.7"/><path d="M428.6 279.1 h-1.5" stroke="#000" stroke-width="0.7"/><svg x="41.5" y="376" width="373.5" height="73.19999999999999" viewBox="41.5 376 373.5 73.19999999999999" overflow="hidden"><g filter="url(#rf)"><rect x="36.5" y="371" width="383.5" height="83.19999999999999" fill="#fff"/><g filter="url(#blur8)"><rect x="40" y="371" width="32.3" height="83.19999999999999" fill="rgb(52,52,52)"/><rect x="72.5" y="371" width="3.5" height="83.19999999999999" fill="rgb(8,8,8)"/><rect x="75.7" y="371" width="3.6" height="83.19999999999999" fill="rgb(130,130,130)"/><rect x="79" y="371" width="2.3" height="83.19999999999999" fill="rgb(61,61,61)"/><rect x="81" y="371" width="6.3" height="83.19999999999999" fill="rgb(8,8,8)"/><rect x="87" y="371" width="5.3" height="83.19999999999999" fill="rgb(84,84,84)"/><rect x="92" y="371" width="4.3" height="83.19999999999999" fill="rgb(8,8,8)"/><rect x="96.8" y="371" width="2.8" height="83.19999999999999" fill="rgb(144,144,144)"/><rect x="99.3" y="371" width="1.0" height="83.19999999999999" fill="rgb(61,61,61)"/><rect x="100" y="371" width="5.3" height="83.19999999999999" fill="rgb(8,8,8)"/><rect x="105" y="371" width="3.3" height="83.19999999999999" fill="rgb(107,107,107)"/><rect x="108" y="371" width="3.3" height="83.19999999999999" fill="rgb(52,52,52)"/><rect x="111.4" y="371" width="4.9" height="83.19999999999999" fill="rgb(8,8,8)"/><rect x="116" y="371" width="5.3" height="83.19999999999999" fill="rgb(153,153,153)"/><rect x="121" y="371" width="9.3" height="83.19999999999999" fill="rgb(70,70,70)"/><rect x="130" y="371" width="5.3" height="83.19999999999999" fill="rgb(162,162,162)"/><rect x="135" y="371" width="1.8" height="83.19999999999999" fill="rgb(84,84,84)"/><rect x="136.5" y="371" width="3.8" height="83.19999999999999" fill="rgb(8,8,8)"/><rect x="140" y="371" width="8.3" height="83.19999999999999" fill="rgb(144,144,144)"/><rect x="148" y="371" width="6.3" height="83.19999999999999" fill="rgb(70,70,70)"/><rect x="154" y="371" width="7.3" height="83.19999999999999" fill="rgb(8,8,8)"/><rect x="161" y="371" width="1.8" height="83.19999999999999" fill="rgb(84,84,84)"/><rect x="162.5" y="371" width="8.3" height="83.19999999999999" fill="rgb(162,162,162)"/><rect x="170.6" y="371" width="5.2" height="83.19999999999999" fill="rgb(8,8,8)"/><rect x="175.5" y="371" width="22.8" height="83.19999999999999" fill="rgb(125,125,125)"/><rect x="198" y="371" width="5.3" height="83.19999999999999" fill="rgb(8,8,8)"/><rect x="203" y="371" width="5.3" height="83.19999999999999" fill="rgb(162,162,162)"/><rect x="208" y="371" width="5.3" height="83.19999999999999" fill="rgb(70,70,70)"/><rect x="213" y="371" width="5.0" height="83.19999999999999" fill="rgb(8,8,8)"/><rect x="217.7" y="371" width="4.6" height="83.19999999999999" fill="rgb(162,162,162)"/><rect x="223" y="371" width="5.3" height="83.19999999999999" fill="rgb(8,8,8)"/><rect x="228" y="371" width="12.3" height="83.19999999999999" fill="rgb(116,116,116)"/><rect x="241" y="371" width="5.3" height="83.19999999999999" fill="rgb(8,8,8)"/><rect x="246" y="371" width="6.3" height="83.19999999999999" fill="rgb(153,153,153)"/><rect x="252.5" y="371" width="2.8" height="83.19999999999999" fill="rgb(8,8,8)"/><rect x="255" y="371" width="2.3" height="83.19999999999999" fill="rgb(107,107,107)"/><rect x="257" y="371" width="10.3" height="83.19999999999999" fill="rgb(144,144,144)"/><rect x="268.7" y="371" width="3.6" height="83.19999999999999" fill="rgb(8,8,8)"/><rect x="273.6" y="371" width="6.7" height="83.19999999999999" fill="rgb(153,153,153)"/><rect x="281.7" y="371" width="5.1" height="83.19999999999999" fill="rgb(8,8,8)"/><rect x="286.5" y="371" width="4.8" height="83.19999999999999" fill="rgb(116,116,116)"/><rect x="291.4" y="371" width="5.2" height="83.19999999999999" fill="rgb(8,8,8)"/><rect x="296.3" y="371" width="8.0" height="83.19999999999999" fill="rgb(144,144,144)"/><rect x="304.4" y="371" width="3.6" height="83.19999999999999" fill="rgb(8,8,8)"/><rect x="308" y="371" width="8.8" height="83.19999999999999" fill="rgb(176,176,176)"/><rect x="316.5" y="371" width="5.2" height="83.19999999999999" fill="rgb(24,24,24)"/><rect x="321" y="371" width="10.3" height="83.19999999999999" fill="rgb(130,130,130)"/><rect x="331" y="371" width="6.9" height="83.19999999999999" fill="rgb(24,24,24)"/><rect x="337.6" y="371" width="5.2" height="83.19999999999999" fill="rgb(8,8,8)"/><rect x="343" y="371" width="7.3" height="83.19999999999999" fill="rgb(199,199,199)"/><rect x="350" y="371" width="7.3" height="83.19999999999999" fill="rgb(8,8,8)"/><rect x="357" y="371" width="18.3" height="83.19999999999999" fill="rgb(98,98,98)"/><rect x="375" y="371" width="3.3" height="83.19999999999999" fill="rgb(8,8,8)"/><rect x="378" y="371" width="23.3" height="83.19999999999999" fill="rgb(98,98,98)"/><rect x="401" y="371" width="6.7" height="83.19999999999999" fill="rgb(15,15,15)"/><rect x="407.4" y="371" width="7.9" height="83.19999999999999" fill="rgb(98,98,98)"/><rect x="76.05" y="376" width="2.5" height="38" fill="rgb(204,204,204)"/><rect x="96.75" y="376" width="2.5" height="30" fill="rgb(217,217,217)"/><rect x="116.5" y="376" width="4" height="25" fill="rgb(217,217,217)"/><rect x="105.0" y="412" width="3" height="37" fill="rgb(178,178,178)"/><rect x="41.0" y="395" width="30" height="32" fill="rgb(82,82,82)"/><rect x="309.0" y="376" width="6" height="34" fill="rgb(217,217,217)"/><rect x="176.0" y="395" width="20" height="35" fill="rgb(128,128,128)"/><rect x="258.0" y="400" width="8" height="30" fill="rgb(153,153,153)"/><rect x="41" y="414" width="259" height="6" fill="#000" fill-opacity="0.12"/><rect x="150" y="414" width="25" height="6" fill="#000" fill-opacity="0.3"/><rect x="212" y="412" width="16" height="9" fill="#000" fill-opacity="0.4"/><rect x="243" y="413" width="19" height="8" fill="#000" fill-opacity="0.4"/><rect x="330" y="376" width="85" height="22" fill="#fff" fill-opacity="0.12"/></g></g></svg><path d="M41.2 376 V449.5 H415" stroke="#000" stroke-width="1.1" fill="none"/><path d="M491.5 18 V111.7 H562" stroke="#000" stroke-width="1" fill="none"/><path d="M617.5 18 V113 H729.5" stroke="#000" stroke-width="1" fill="none"/><rect x="731.2" y="21.8" width="7.4" height="82.4" fill="url(#vir)" stroke="#222" stroke-width="0.8"/><path d="M561.9 65.9 L560.8 67.1 L559.6 68.3 L558.2 69.6 L556.7 70.8 L554.8 72.0 L552.6 73.1 L550.1 73.9 L547.3 74.5 L544.4 74.6 L541.5 74.4 L538.7 73.8 L536.2 72.8 L534.1 71.6 L532.4 70.1 L531.3 68.5 L530.5 66.9 L530.1 65.3 L529.9 63.8 L529.8 62.3 L529.8 60.9 L529.8 59.5 L529.9 58.1 L530.1 56.6 L530.4 55.1 L531.1 53.5 L532.1 51.9 L533.6 50.3 L535.6 49.0 L538.0 47.9 L540.7 47.2 L543.6 46.9 L546.6 46.9 L549.4 47.4 L552.0 48.2 L554.3 49.2 L556.2 50.3 L557.9 51.6 L559.3 52.8 L560.5 54.1 L561.6 55.3 L562.7 56.5 L563.8 57.7 L564.9 59.1 L565.8 60.5 L566.6 62.1 L566.9 63.8 L566.9 65.6 L566.2 67.4" stroke="#471d6e" stroke-width="2.1" fill="none" stroke-linejoin="round" stroke-linecap="round"/><path d="M537.3 72.9 L536.2 71.3 L535.3 69.6 L534.7 67.8 L534.3 66.1 L534.1 64.4 L534.1 62.7 L534.2 61.1 L534.4 59.4 L534.7 57.8 L535.2 56.2 L535.9 54.5 L536.7 52.9 L537.8 51.3 L539.1 49.8 L540.7 48.5 L542.6 47.3 L544.7 46.4 L547.0 45.8 L549.3 45.5 L551.8 45.6 L554.1 46.1 L556.4 47.0 L558.4 48.2 L560.1 49.7 L561.5 51.4 L562.6 53.2 L563.3 55.2 L563.6 57.1 L563.7 59.0 L563.5 60.9 L563.1 62.6 L562.5 64.3 L561.7 65.9 L560.9 67.3 L559.9 68.7 L558.9 70.1 L557.7 71.4 L556.4 72.6 L554.9 73.8 L553.2 74.9 L551.4 75.8 L549.4 76.5 L547.2 76.9 L544.9 77.1 L542.5 76.9 L540.2 76.4 L538.0 75.5 L536.0 74.3" stroke="#45317c" stroke-width="2.1" fill="none" stroke-linejoin="round" stroke-linecap="round"/><path d="M550.6 73.9 L548.7 74.8 L546.5 75.4 L544.2 75.8 L541.8 75.8 L539.4 75.6 L537.1 74.9 L535.0 74.0 L533.1 72.8 L531.6 71.4 L530.5 69.8 L529.8 68.1 L529.4 66.4 L529.4 64.7 L529.6 63.0 L530.1 61.5 L530.8 60.1 L531.6 58.7 L532.5 57.5 L533.4 56.3 L534.5 55.1 L535.6 54.0 L536.9 52.9 L538.4 51.8 L540.0 50.9 L541.9 50.0 L544.0 49.4 L546.2 49.0 L548.6 48.8 L551.0 49.0 L553.3 49.5 L555.5 50.3 L557.4 51.4 L559.1 52.8 L560.3 54.4 L561.2 56.1 L561.6 57.8 L561.7 59.6 L561.5 61.3 L560.9 62.8 L560.1 64.3 L559.2 65.7 L558.2 66.9 L557.1 68.1 L555.9 69.2 L554.7 70.2 L553.3 71.2 L551.8 72.1 L550.2 73.0" stroke="#414487" stroke-width="2.1" fill="none" stroke-linejoin="round" stroke-linecap="round"/><path d="M536.8 84.0 L534.8 81.5 L533.3 78.9 L532.3 76.3 L531.7 73.8 L531.3 71.4 L530.9 69.0 L530.6 66.7 L530.3 64.3 L530.1 61.8 L530.2 59.1 L530.7 56.4 L531.7 53.6 L533.3 50.8 L535.7 48.4 L538.7 46.3 L542.2 44.8 L546.1 43.9 L550.2 43.6 L554.1 44.0 L557.9 45.0 L561.3 46.4 L564.2 48.1 L566.8 50.0 L569.0 51.9 L571.0 53.8 L572.9 55.7 L574.7 57.6 L576.6 59.5 L578.4 61.6 L580.1 64.0 L581.6 66.5 L582.5 69.4 L582.9 72.4 L582.4 75.4 L581.1 78.3 L579.1 81.0 L576.2 83.2 L572.9 84.9 L569.1 86.0 L565.3 86.6 L561.4 86.6 L557.7 86.3 L554.3 85.7 L551.2 84.9 L548.2 84.0 L545.3 83.2 L542.4 82.3 L539.5 81.3" stroke="#355f8d" stroke-width="2.1" fill="none" stroke-linejoin="round" stroke-linecap="round"/><path d="M585.0 77.3 L584.3 80.5 L582.7 83.5 L580.2 86.3 L576.7 88.6 L572.5 90.2 L567.8 91.0 L563.0 91.0 L558.4 90.4 L554.2 89.3 L550.4 87.8 L547.0 86.3 L543.8 84.8 L540.8 83.4 L537.6 82.1 L534.3 80.8 L530.8 79.2 L527.3 77.3 L524.2 75.0 L521.6 72.3 L520.0 69.2 L519.5 65.9 L520.3 62.6 L522.2 59.6 L525.1 57.0 L528.7 54.9 L532.6 53.3 L536.5 52.1 L540.3 51.2 L543.9 50.4 L547.4 49.5 L550.8 48.5 L554.4 47.5 L558.3 46.5 L562.6 45.8 L567.3 45.5 L572.0 45.8 L576.6 46.8 L580.6 48.6 L583.9 51.0 L586.1 53.9 L587.3 57.1 L587.6 60.3 L587.1 63.4 L586.1 66.3 L584.9 68.9 L583.7 71.3 L582.6 73.7 L581.7 76.2" stroke="#306c8e" stroke-width="2.1" fill="none" stroke-linejoin="round" stroke-linecap="round"/><path d="M588.5 68.8 L588.0 71.6 L586.9 74.6 L585.0 77.5 L581.9 80.1 L577.7 82.1 L572.8 83.2 L567.5 83.4 L562.3 82.7 L557.6 81.4 L553.4 79.9 L549.8 78.3 L546.3 76.9 L542.8 75.7 L539.0 74.7 L534.7 73.7 L530.3 72.3 L526.0 70.5 L522.5 68.1 L520.3 65.2 L519.6 62.0 L520.5 58.9 L522.8 56.0 L526.1 53.6 L529.7 51.5 L533.4 49.8 L536.6 48.3 L539.5 46.6 L542.2 44.7 L545.1 42.6 L548.4 40.4 L552.4 38.4 L557.1 36.9 L562.3 36.3 L567.5 36.5 L572.4 37.8 L576.5 39.8 L579.7 42.3 L582.0 45.0 L583.7 47.6 L585.3 50.0 L587.1 52.2 L589.2 54.3 L591.7 56.5 L594.3 58.9 L596.5 61.7 L597.8 64.8 L597.7 68.0 L596.1 71.0" stroke="#2a788e" stroke-width="2.1" fill="none" stroke-linejoin="round" stroke-linecap="round"/><path d="M578.8 72.2 L575.5 74.5 L572.1 76.3 L568.9 77.7 L565.8 79.1 L563.0 80.5 L560.1 82.1 L557.1 83.9 L553.7 85.6 L549.9 87.0 L545.7 87.9 L541.4 88.0 L537.1 87.1 L533.2 85.3 L530.1 82.7 L527.8 79.5 L526.4 75.9 L525.8 72.3 L525.7 68.9 L525.9 65.7 L526.1 62.7 L526.2 59.8 L526.0 56.9 L525.9 53.8 L525.9 50.4 L526.4 46.8 L527.5 43.2 L529.6 39.9 L532.5 37.1 L536.2 35.0 L540.4 33.9 L544.8 33.8 L549.0 34.5 L552.9 35.8 L556.4 37.5 L559.5 39.3 L562.4 41.0 L565.2 42.5 L568.1 43.9 L571.3 45.4 L574.6 47.1 L577.9 49.2 L580.9 51.9 L583.2 55.0 L584.6 58.6 L584.9 62.4 L584.0 66.2 L582.0 69.5 L579.2 72.4" stroke="#26848d" stroke-width="2.1" fill="none" stroke-linejoin="round" stroke-linecap="round"/><path d="M548.2 41.5 L552.7 42.6 L556.7 44.1 L560.3 45.7 L563.5 47.2 L566.7 48.5 L570.0 49.7 L573.6 50.9 L577.4 52.3 L581.3 54.0 L584.8 56.3 L587.5 59.0 L589.1 62.1 L589.4 65.3 L588.2 68.5 L585.9 71.4 L582.7 73.8 L579.0 75.8 L575.3 77.3 L571.8 78.7 L568.5 80.0 L565.4 81.4 L562.4 83.0 L559.0 84.7 L555.2 86.4 L550.9 87.7 L546.1 88.5 L541.2 88.5 L536.5 87.5 L532.3 85.8 L529.1 83.3 L526.8 80.4 L525.4 77.4 L524.7 74.4 L524.4 71.6 L524.0 69.1 L523.5 66.6 L522.7 64.1 L521.8 61.5 L521.0 58.6 L520.7 55.4 L521.4 52.2 L523.1 49.1 L525.9 46.5 L529.8 44.5 L534.4 43.2 L539.3 42.8 L544.1 43.1 L548.5 43.8" stroke="#21918c" stroke-width="2.1" fill="none" stroke-linejoin="round" stroke-linecap="round"/><path d="M570.8 61.5 L569.8 64.2 L568.5 66.9 L567.0 69.6 L565.0 72.3 L562.5 74.8 L559.6 77.1 L556.1 79.0 L552.3 80.4 L548.1 81.2 L543.9 81.3 L539.7 80.6 L535.7 79.3 L532.1 77.4 L529.0 75.0 L526.5 72.2 L524.7 69.1 L523.4 65.9 L522.7 62.8 L522.4 59.7 L522.5 56.7 L522.8 53.9 L523.2 51.1 L523.8 48.4 L524.5 45.7 L525.5 43.0 L526.7 40.2 L528.3 37.4 L530.3 34.7 L532.8 32.1 L535.8 29.8 L539.3 27.9 L543.2 26.6 L547.4 25.9 L551.7 25.9 L555.8 26.7 L559.8 28.1 L563.3 30.1 L566.3 32.5 L568.7 35.4 L570.5 38.4 L571.7 41.5 L572.4 44.6 L572.8 47.7 L572.8 50.6 L572.6 53.4 L572.3 56.1 L571.8 58.9 L571.2 61.6" stroke="#229c88" stroke-width="2.1" fill="none" stroke-linejoin="round" stroke-linecap="round"/><path d="M530.4 75.8 L527.2 73.8 L524.0 71.5 L521.0 68.8 L518.3 65.6 L516.2 61.9 L514.8 57.9 L514.3 53.6 L514.8 49.3 L516.2 45.2 L518.6 41.5 L521.8 38.3 L525.5 35.8 L529.5 33.9 L533.7 32.7 L537.9 32.1 L541.9 31.9 L545.7 31.9 L549.4 32.2 L552.9 32.5 L556.5 32.8 L560.2 33.3 L564.0 34.0 L567.8 35.0 L571.8 36.5 L575.6 38.6 L579.1 41.2 L582.1 44.5 L584.3 48.2 L585.7 52.4 L586.0 56.7 L585.4 60.9 L583.8 65.0 L581.5 68.6 L578.5 71.7 L575.1 74.3 L571.5 76.3 L567.9 77.9 L564.4 79.2 L560.9 80.3 L557.4 81.3 L554.0 82.2 L550.4 83.0 L546.6 83.7 L542.6 84.1 L538.4 84.1 L534.0 83.5 L529.6 82.3 L525.5 80.4" stroke="#22a386" stroke-width="2.1" fill="none" stroke-linejoin="round" stroke-linecap="round"/><path d="M510.8 65.4 L508.4 61.7 L506.6 57.7 L505.7 53.5 L505.5 49.1 L506.4 44.6 L508.2 40.4 L510.9 36.4 L514.5 32.9 L518.8 30.1 L523.6 27.8 L528.7 26.3 L534.0 25.6 L539.2 25.5 L544.2 26.0 L549.0 27.0 L553.4 28.4 L557.5 30.1 L561.2 32.1 L564.7 34.2 L567.8 36.5 L570.8 39.0 L573.6 41.6 L576.2 44.4 L578.6 47.5 L580.6 50.8 L582.3 54.4 L583.5 58.3 L584.0 62.4 L583.7 66.7 L582.6 70.9 L580.6 75.0 L577.7 78.9 L574.0 82.2 L569.6 85.0 L564.7 87.1 L559.4 88.5 L553.9 89.0 L548.4 88.8 L543.2 87.9 L538.3 86.4 L533.9 84.4 L530.0 81.9 L526.6 79.3 L523.6 76.4 L521.1 73.4 L519.0 70.4 L517.1 67.3 L515.5 64.1" stroke="#25aa82" stroke-width="2.1" fill="none" stroke-linejoin="round" stroke-linecap="round"/><path d="M505.3 68.6 L504.3 63.9 L504.5 59.0 L505.9 54.4 L508.2 50.2 L511.1 46.5 L514.5 43.5 L518.0 40.9 L521.4 38.7 L524.7 36.6 L527.9 34.6 L531.2 32.5 L534.6 30.4 L538.4 28.4 L542.6 26.6 L547.3 25.3 L552.2 24.8 L557.3 25.2 L562.1 26.7 L566.5 29.2 L570.1 32.6 L572.7 36.7 L574.4 41.2 L575.1 45.8 L575.1 50.3 L574.5 54.6 L573.5 58.5 L572.5 62.2 L571.5 65.8 L570.5 69.3 L569.5 73.0 L568.2 76.9 L566.6 80.8 L564.3 84.8 L561.4 88.5 L557.6 91.7 L553.2 94.1 L548.3 95.4 L543.2 95.7 L538.2 94.7 L533.6 92.8 L529.5 90.1 L526.1 86.8 L523.3 83.3 L521.1 79.8 L519.2 76.3 L517.4 72.9 L515.7 69.7 L513.9 66.3" stroke="#30b17c" stroke-width="2.1" fill="none" stroke-linejoin="round" stroke-linecap="round"/><path d="M557.6 78.2 L552.7 79.8 L547.2 81.0 L541.3 81.4 L535.5 80.9 L530.0 79.6 L525.4 77.4 L521.9 74.6 L519.5 71.5 L518.1 68.2 L517.5 65.1 L517.2 62.2 L516.9 59.5 L516.4 56.9 L515.6 54.2 L514.8 51.3 L514.2 48.2 L514.3 44.9 L515.4 41.5 L517.7 38.3 L521.4 35.6 L526.2 33.5 L531.7 32.3 L537.6 31.9 L543.4 32.3 L548.8 33.2 L553.6 34.5 L558.1 35.7 L562.2 36.9 L566.4 37.9 L570.8 38.8 L575.5 39.8 L580.4 41.0 L585.3 42.7 L589.7 45.0 L593.1 47.8 L595.2 51.1 L595.8 54.6 L594.7 58.0 L592.2 61.2 L588.7 63.9 L584.7 66.2 L580.5 68.0 L576.5 69.7 L572.8 71.2 L569.3 72.9 L565.8 74.7 L562.0 76.7 L557.7 78.6" stroke="#3ab876" stroke-width="2.1" fill="none" stroke-linejoin="round" stroke-linecap="round"/><path d="M519.4 76.0 L516.1 73.3 L513.6 69.8 L512.2 65.9 L512.0 61.8 L513.0 57.7 L515.1 54.1 L517.8 50.9 L520.9 48.3 L523.9 46.1 L526.7 44.2 L529.3 42.1 L531.8 39.9 L534.3 37.4 L537.2 34.9 L540.6 32.5 L544.5 30.6 L548.8 29.6 L553.2 29.7 L557.5 30.9 L561.2 33.1 L564.2 36.2 L566.3 39.8 L567.7 43.5 L568.7 47.1 L569.4 50.4 L570.2 53.5 L571.2 56.5 L572.5 59.6 L573.8 63.0 L574.8 66.8 L575.2 70.8 L574.8 74.9 L573.2 78.8 L570.6 82.2 L567.1 84.7 L563.0 86.2 L558.6 86.8 L554.3 86.7 L550.3 86.0 L546.7 85.2 L543.3 84.5 L540.0 84.0 L536.5 83.7 L532.8 83.4 L528.8 82.9 L524.7 81.8 L520.7 79.9 L517.3 77.3" stroke="#44bf70" stroke-width="2.1" fill="none" stroke-linejoin="round" stroke-linecap="round"/><path d="M570.5 38.0 L572.6 42.0 L573.3 46.3 L573.1 50.4 L572.4 54.2 L571.8 57.7 L571.6 60.9 L571.9 64.3 L572.4 67.9 L572.8 71.9 L572.4 76.1 L570.8 80.3 L567.9 84.0 L563.7 86.7 L558.5 88.3 L552.9 88.7 L547.5 88.1 L542.4 86.9 L538.0 85.5 L533.8 84.2 L529.8 83.4 L525.5 82.9 L520.7 82.4 L515.6 81.7 L510.4 80.2 L505.7 77.9 L502.0 74.6 L499.9 70.7 L499.4 66.4 L500.5 62.1 L502.7 58.2 L505.5 54.8 L508.3 51.8 L510.7 49.0 L512.6 46.1 L514.2 42.9 L516.0 39.4 L518.3 35.6 L521.5 32.1 L525.7 29.3 L530.7 27.5 L536.2 27.1 L541.7 28.0 L546.6 30.0 L550.8 32.7 L554.3 35.6 L557.4 38.4 L560.4 40.8 L563.6 42.8" stroke="#54c467" stroke-width="2.1" fill="none" stroke-linejoin="round" stroke-linecap="round"/><path d="M574.7 48.8 L576.0 52.4 L576.5 56.1 L576.3 59.9 L575.4 63.5 L573.8 66.9 L571.6 70.0 L569.0 72.7 L566.1 74.9 L562.9 76.7 L559.6 78.1 L556.3 79.1 L553.0 79.8 L549.7 80.2 L546.5 80.3 L543.3 80.3 L540.2 80.0 L537.0 79.6 L533.8 78.9 L530.6 77.9 L527.4 76.6 L524.3 75.0 L521.3 72.9 L518.6 70.4 L516.3 67.6 L514.5 64.3 L513.3 60.8 L512.7 57.1 L512.9 53.4 L513.8 49.7 L515.5 46.2 L517.7 43.0 L520.6 40.3 L523.8 38.1 L527.4 36.4 L531.1 35.2 L534.9 34.6 L538.7 34.4 L542.3 34.7 L545.8 35.4 L549.0 36.3 L552.1 37.4 L554.9 38.7 L557.7 40.2 L560.3 41.8 L562.8 43.6 L565.1 45.7 L567.4 48.0 L569.4 50.5" stroke="#6fcd57" stroke-width="2.1" fill="none" stroke-linejoin="round" stroke-linecap="round"/><path d="M519.6 34.6 L523.2 32.2 L527.3 30.8 L531.8 30.6 L536.1 31.3 L540.0 32.6 L543.5 34.2 L546.7 35.6 L549.9 36.7 L553.2 37.5 L556.8 38.3 L560.7 39.3 L564.7 40.8 L568.3 43.2 L571.3 46.3 L573.2 50.2 L573.8 54.4 L573.1 58.6 L571.4 62.5 L569.0 65.9 L566.4 68.8 L563.9 71.4 L561.7 73.9 L559.7 76.5 L557.9 79.5 L555.9 82.7 L553.3 85.9 L550.2 88.8 L546.4 91.0 L542.1 92.1 L537.7 91.9 L533.6 90.4 L530.0 88.0 L527.0 84.9 L524.8 81.5 L522.9 78.3 L521.2 75.3 L519.4 72.7 L517.2 70.1 L514.8 67.4 L512.3 64.3 L510.1 60.7 L508.7 56.6 L508.4 52.4 L509.4 48.3 L511.6 44.6 L514.9 41.7 L518.7 39.6 L522.7 38.3" stroke="#84d34b" stroke-width="2.1" fill="none" stroke-linejoin="round" stroke-linecap="round"/><path d="M521.8 71.9 L521.3 68.8 L520.7 65.9 L520.0 63.0 L519.3 60.0 L518.7 56.7 L518.3 53.1 L518.4 49.4 L519.1 45.6 L520.5 42.0 L522.6 39.0 L525.3 36.6 L528.4 35.2 L531.7 34.6 L534.9 34.8 L538.0 35.7 L540.9 36.9 L543.4 38.3 L545.8 39.7 L548.1 40.9 L550.5 42.1 L553.0 43.3 L555.6 44.7 L558.2 46.5 L560.8 48.9 L562.9 51.8 L564.5 55.3 L565.3 59.1 L565.3 63.0 L564.4 66.8 L562.8 70.2 L560.6 73.1 L558.2 75.4 L555.6 77.3 L553.1 78.8 L550.7 80.2 L548.4 81.5 L546.2 83.0 L543.9 84.5 L541.3 86.1 L538.4 87.4 L535.3 88.3 L532.0 88.6 L528.7 87.9 L525.6 86.4 L523.0 84.0 L520.9 80.9 L519.6 77.3 L518.9 73.6" stroke="#9cd83c" stroke-width="2.1" fill="none" stroke-linejoin="round" stroke-linecap="round"/><path d="M548.9 84.4 L545.5 85.7 L541.8 86.7 L537.8 87.4 L533.6 87.5 L529.3 87.0 L525.2 86.0 L521.4 84.3 L518.1 82.1 L515.4 79.5 L513.4 76.5 L512.2 73.4 L511.8 70.1 L512.0 67.0 L512.8 64.0 L514.1 61.2 L515.8 58.6 L517.6 56.3 L519.6 54.1 L521.7 52.1 L523.8 50.2 L526.2 48.4 L528.7 46.6 L531.4 44.8 L534.5 43.3 L538.0 41.9 L541.7 40.9 L545.8 40.3 L550.0 40.2 L554.3 40.7 L558.4 41.8 L562.1 43.5 L565.4 45.8 L568.0 48.5 L569.9 51.4 L571.1 54.6 L571.5 57.8 L571.2 61.0 L570.4 63.9 L569.1 66.7 L567.5 69.2 L565.7 71.6 L563.8 73.7 L561.8 75.7 L559.7 77.7 L557.5 79.6 L555.0 81.5 L552.2 83.2 L549.1 84.9" stroke="#b3dd2c" stroke-width="2.1" fill="none" stroke-linejoin="round" stroke-linecap="round"/><path d="M562.8 61.8 L563.2 65.3 L562.8 68.9 L561.9 72.3 L560.2 75.4 L558.1 78.1 L555.5 80.3 L552.6 81.8 L549.6 82.8 L546.6 83.3 L543.7 83.3 L540.9 83.1 L538.3 82.6 L535.8 82.0 L533.4 81.3 L531.0 80.6 L528.5 79.7 L526.0 78.6 L523.5 77.3 L521.0 75.6 L518.7 73.4 L516.6 70.8 L515.0 67.8 L513.9 64.4 L513.4 60.9 L513.6 57.3 L514.5 53.8 L516.0 50.7 L518.0 47.9 L520.4 45.6 L523.1 43.9 L525.9 42.6 L528.6 41.7 L531.3 41.2 L533.9 40.9 L536.4 40.7 L538.9 40.6 L541.5 40.5 L544.1 40.6 L546.8 40.9 L549.6 41.5 L552.4 42.4 L555.2 43.9 L557.8 45.9 L560.1 48.4 L561.9 51.3 L563.2 54.7 L563.7 58.2 L563.6 61.8" stroke="#cae126" stroke-width="2.1" fill="none" stroke-linejoin="round" stroke-linecap="round"/><path d="M555.4 57.9 L555.5 61.0 L555.7 64.3 L555.8 67.9 L555.6 71.7 L554.7 75.5 L553.1 79.1 L550.8 82.0 L547.9 84.0 L544.6 84.9 L541.3 84.8 L538.1 83.8 L535.2 82.4 L532.6 80.8 L530.2 79.2 L527.9 78.0 L525.5 76.9 L522.8 75.8 L520.0 74.6 L517.2 72.8 L514.5 70.4 L512.4 67.3 L511.0 63.7 L510.6 59.7 L511.1 55.7 L512.4 52.1 L514.4 48.9 L516.6 46.2 L518.9 44.0 L521.0 42.0 L522.9 39.9 L524.6 37.7 L526.5 35.2 L528.5 32.6 L531.0 30.1 L533.8 28.1 L537.0 26.9 L540.4 26.8 L543.6 27.8 L546.5 29.8 L548.8 32.7 L550.6 36.1 L551.8 39.5 L552.6 42.9 L553.4 46.0 L554.2 48.9 L555.2 51.8 L556.4 54.7 L557.6 58.0" stroke="#e0e325" stroke-width="2.1" fill="none" stroke-linejoin="round" stroke-linecap="round"/><path d="M553.2 82.6 L549.9 84.5 L546.4 85.8 L542.8 86.5 L539.2 86.5 L535.8 86.0 L532.5 85.0 L529.5 83.6 L526.7 81.9 L524.2 79.8 L522.0 77.6 L520.0 75.3 L518.2 72.8 L516.6 70.1 L515.3 67.4 L514.1 64.5 L513.2 61.4 L512.5 58.2 L512.1 54.8 L512.0 51.3 L512.3 47.7 L513.1 44.1 L514.4 40.6 L516.2 37.2 L518.5 34.1 L521.2 31.4 L524.4 29.2 L527.8 27.5 L531.5 26.6 L535.3 26.3 L539.1 26.7 L542.7 27.8 L546.1 29.5 L549.2 31.8 L551.8 34.5 L554.0 37.5 L555.7 40.8 L557.0 44.2 L557.8 47.7 L558.2 51.1 L558.3 54.5 L558.1 57.8 L557.6 60.9 L556.8 64.0 L555.9 67.0 L554.7 69.8 L553.3 72.6 L551.7 75.3 L549.8 77.9" stroke="#f7e625" stroke-width="2.1" fill="none" stroke-linejoin="round" stroke-linecap="round"/><path d="M541 70 q2 4 0 8 M544 69 q3 3 1 7 q-2 1 -3 -1 M553 68 q2 3 -1 6" stroke="#450c5e" stroke-width="1.9" fill="none" stroke-linecap="round"/><path d="M659.8 27.1 L675.1 26.7 L689.4 30.8 L702.4 38.4 L709.6 51.1 L711.4 65.4 L705.2 78.3 L697.4 90.8 L683.4 97.8 L667.6 98.1 L651.3 96.5 L642.1 84.0 L634.6 72.2 L629.6 58.1 L633.9 43.5 L644.7 32.1 L659.9 27.3" stroke="#450c5e" stroke-width="1.8" fill="none" stroke-linejoin="round" stroke-linecap="round"/><path d="M686.4 92.1 L671.3 94.6 L656.5 90.9 L642.2 84.3 L632.4 72.2 L631.6 57.4 L637.3 44.0 L646.1 32.3 L659.7 24.6 L675.7 23.0 L691.8 25.3 L703.5 35.4 L712.2 47.2 L715.7 61.4 L711.0 75.3 L702.1 87.7 L687.7 95.3" stroke="#471d6e" stroke-width="1.8" fill="none" stroke-linejoin="round" stroke-linecap="round"/><path d="M627.8 83.7 L623.6 67.5 L625.8 51.3 L633.0 36.2 L647.0 25.3 L664.5 19.8 L682.9 21.9 L698.5 30.6 L710.3 43.0 L712.4 59.0 L712.0 74.6 L705.6 89.8 L692.0 100.9 L674.5 106.3 L656.3 103.5 L640.1 96.1 L629.2 83.0" stroke="#3b528a" stroke-width="1.8" fill="none" stroke-linejoin="round" stroke-linecap="round"/><path d="M634.9 33.6 L651.4 26.2 L668.4 21.3 L686.0 24.7 L699.3 35.2 L709.6 47.7 L716.5 63.0 L710.4 78.5 L703.2 93.5 L687.3 101.1 L670.6 106.0 L653.0 103.2 L639.2 93.3 L630.0 80.0 L623.2 65.0 L626.2 48.5 L635.9 34.4" stroke="#365c8c" stroke-width="1.8" fill="none" stroke-linejoin="round" stroke-linecap="round"/><path d="M624.4 60.8 L630.2 45.2 L640.3 31.7 L657.0 26.9 L673.4 22.3 L690.3 26.6 L705.6 35.4 L710.9 51.4 L715.4 67.2 L708.0 81.9 L697.7 94.0 L684.0 103.5 L666.7 106.0 L651.0 99.2 L637.6 90.1 L629.2 76.5 L624.7 60.8" stroke="#32668d" stroke-width="1.8" fill="none" stroke-linejoin="round" stroke-linecap="round"/><path d="M643.6 97.5 L630.2 86.8 L625.3 71.2 L627.5 55.6 L633.5 40.7 L648.2 32.1 L664.3 28.4 L680.4 29.3 L697.2 32.9 L709.9 44.1 L715.8 59.4 L714.0 75.3 L706.1 89.3 L691.9 97.9 L676.8 105.2 L659.9 102.2 L643.7 97.4" stroke="#2d708e" stroke-width="1.8" fill="none" stroke-linejoin="round" stroke-linecap="round"/><path d="M689.4 27.3 L704.5 35.2 L711.4 50.1 L715.6 65.5 L709.4 80.3 L702.3 95.1 L686.8 102.6 L670.0 105.1 L654.3 99.6 L640.9 90.8 L632.2 77.8 L629.2 62.5 L630.4 46.2 L643.1 35.1 L657.3 27.8 L673.1 24.2 L690.1 25.9" stroke="#297b8e" stroke-width="1.8" fill="none" stroke-linejoin="round" stroke-linecap="round"/><path d="M630.1 82.2 L621.9 67.4 L623.7 50.4 L636.3 38.0 L649.3 26.7 L667.1 23.1 L684.9 25.4 L699.4 34.7 L713.6 45.7 L716.8 62.4 L710.3 77.6 L701.2 90.2 L690.3 103.3 L672.5 107.5 L654.6 104.1 L640.2 94.8 L630.9 81.9" stroke="#26848d" stroke-width="1.8" fill="none" stroke-linejoin="round" stroke-linecap="round"/><path d="M675.9 102.6 L657.8 104.8 L642.1 96.0 L634.3 81.6 L626.5 67.8 L628.1 52.0 L634.8 36.8 L649.4 27.0 L666.7 22.6 L684.1 25.1 L700.3 31.5 L710.4 44.5 L717.7 59.2 L714.0 75.0 L705.8 88.8 L692.2 98.2 L676.3 105.8" stroke="#228e8c" stroke-width="1.8" fill="none" stroke-linejoin="round" stroke-linecap="round"/><path d="M628.9 49.7 L637.6 36.5 L653.6 29.7 L670.0 25.0 L687.0 28.1 L703.4 33.9 L715.1 45.7 L720.2 60.8 L718.5 76.7 L704.9 87.7 L692.3 98.5 L674.4 100.5 L656.7 99.0 L640.3 92.2 L627.7 80.4 L624.9 64.7 L627.9 49.4" stroke="#21988a" stroke-width="1.8" fill="none" stroke-linejoin="round" stroke-linecap="round"/><path d="M717.2 52.8 L715.3 68.9 L711.2 84.4 L698.4 96.1 L681.9 103.3 L663.8 101.5 L645.8 98.9 L633.2 87.4 L624.6 73.4 L621.0 57.2 L630.7 43.0 L640.9 29.4 L658.3 23.3 L676.5 24.3 L694.1 28.1 L705.8 40.0 L714.2 53.5" stroke="#22a186" stroke-width="1.8" fill="none" stroke-linejoin="round" stroke-linecap="round"/><path d="M630.3 57.6 L634.7 43.3 L644.6 31.0 L659.5 23.7 L675.8 26.5 L691.1 30.4 L702.2 41.2 L710.5 54.3 L710.3 69.7 L704.5 83.8 L694.1 95.6 L679.0 101.2 L662.7 103.6 L647.7 97.0 L636.6 86.0 L631.3 72.1 L629.5 57.5" stroke="#22a884" stroke-width="1.8" fill="none" stroke-linejoin="round" stroke-linecap="round"/><path d="M640.5 32.8 L654.9 23.2 L672.8 22.5 L688.2 29.4 L701.2 38.1 L709.0 50.8 L713.5 65.4 L712.2 81.5 L699.4 92.8 L684.2 99.9 L667.5 103.0 L649.9 100.7 L636.1 90.3 L628.1 76.2 L627.0 60.7 L630.9 45.8 L640.5 32.8" stroke="#33b47a" stroke-width="1.8" fill="none" stroke-linejoin="round" stroke-linecap="round"/><path d="M652.3 25.0 L667.6 19.2 L683.2 23.8 L696.8 31.7 L704.9 44.9 L710.7 59.5 L708.2 75.3 L699.1 88.3 L686.2 97.0 L671.2 103.4 L654.6 101.4 L640.9 92.1 L632.8 78.2 L629.8 63.0 L632.4 47.9 L640.8 35.3 L652.6 25.6" stroke="#44bf70" stroke-width="1.8" fill="none" stroke-linejoin="round" stroke-linecap="round"/><path d="M644.0 31.8 L659.4 27.0 L674.6 26.8 L690.2 28.7 L702.9 38.1 L712.6 51.1 L711.2 67.0 L703.8 80.0 L695.6 92.2 L682.6 101.2 L666.1 104.3 L650.4 98.5 L640.0 86.6 L632.2 73.8 L630.6 59.0 L633.4 43.9 L646.0 34.2" stroke="#5fc860" stroke-width="1.8" fill="none" stroke-linejoin="round" stroke-linecap="round"/><path d="M695.8 95.5 L680.1 99.7 L663.9 102.9 L650.5 93.7 L637.4 85.2 L634.1 70.4 L634.1 56.3 L636.5 41.6 L648.2 31.4 L661.7 22.9 L677.9 24.1 L692.3 29.9 L705.8 38.8 L711.7 53.4 L712.0 68.9 L705.4 82.9 L692.9 91.7" stroke="#7ad151" stroke-width="1.8" fill="none" stroke-linejoin="round" stroke-linecap="round"/><path d="M641.1 31.4 L657.0 26.1 L672.4 21.9 L687.9 26.1 L699.8 35.7 L708.9 47.3 L713.9 61.8 L709.8 76.6 L697.9 86.5 L686.0 95.5 L670.7 100.8 L655.2 95.8 L640.8 88.4 L634.4 74.5 L633.4 60.2 L634.3 45.7 L642.1 32.4" stroke="#9cd83c" stroke-width="1.8" fill="none" stroke-linejoin="round" stroke-linecap="round"/><path d="M629.4 69.2 L629.0 56.8 L631.8 45.2 L640.0 35.0 L652.7 27.9 L668.3 25.4 L684.0 27.6 L696.8 35.0 L704.9 45.4 L708.2 57.2 L705.2 69.2 L695.8 78.8 L683.5 86.6 L667.8 87.6 L652.3 85.8 L639.5 78.8 L629.5 69.1" stroke="#d0e126" stroke-width="1.9" fill="none" stroke-linejoin="round" stroke-linecap="round"/><path d="M705.9 54.0 L705.9 64.9 L701.7 76.1 L689.4 83.4 L674.7 87.2 L659.6 85.6 L645.4 81.5 L634.2 73.4 L629.9 62.2 L632.5 51.1 L639.1 41.4 L649.6 33.8 L663.3 28.8 L679.1 28.3 L693.2 33.8 L700.4 44.1 L707.7 53.8" stroke="#eae525" stroke-width="1.9" fill="none" stroke-linejoin="round" stroke-linecap="round"/><path d="M682.6 28.1 L697.1 34.4 L705.0 46.1 L707.4 58.8 L706.3 71.8 L696.7 82.5 L682.7 88.9 L667.3 91.5 L651.6 89.5 L638.8 82.0 L627.4 72.5 L624.0 59.3 L630.6 47.1 L638.3 36.3 L650.7 28.0 L666.7 25.1 L682.2 28.7" stroke="#b0dc2f" stroke-width="1.9" fill="none" stroke-linejoin="round" stroke-linecap="round"/><path d="M656 31 Q672 26 690 33 L702 38" stroke="#461668" stroke-width="1.5" fill="none" stroke-linecap="round"/><path d="M641 38 L638 55 L640 72" stroke="#355f8d" stroke-width="1.5" fill="none" stroke-linecap="round"/><path d="M688 101 L694 88 M662 99 L690 94 L699 98" stroke="#461264" stroke-width="1.5" fill="none" stroke-linecap="round"/><path d="M700 82 L706 97" stroke="#5fc860" stroke-width="1.6" fill="none" stroke-linecap="round"/><svg x="524" y="158.7" width="180.5" height="93.3" viewBox="524 158.7 180.5 93.3" overflow="hidden"><g filter="url(#rd)" opacity="0.75"><rect x="519" y="153.7" width="190.5" height="103.3" fill="rgb(244,244,244)"/><g filter="url(#blur35)"><polygon points="517.6,243.7 532.6,243.7 537.5,243.7 522.5,243.7" fill="#000" fill-opacity="0.6"/><polygon points="522.5,243.7 537.5,243.7 540.8,236 525.8,236" fill="#000" fill-opacity="0.6"/><polygon points="525.8,236 540.8,236 546.3,222.3 531.3,222.3" fill="#000" fill-opacity="0.6"/><polygon points="531.3,222.3 546.3,222.3 550.4,220.1 535.4,220.1" fill="#000" fill-opacity="0.6"/><polygon points="535.4,220.1 550.4,220.1 554.6,210 539.6,210" fill="#000" fill-opacity="0.6"/><polygon points="539.6,210 554.6,210 558.7,199 543.7,199" fill="#000" fill-opacity="0.6"/><polygon points="543.7,199 558.7,199 562.8,190.8 547.8,190.8" fill="#000" fill-opacity="0.6"/><polygon points="547.8,190.8 562.8,190.8 566.9,185.3 551.9,185.3" fill="#000" fill-opacity="0.6"/><polygon points="551.9,185.3 566.9,185.3 571.0,178.4 556.0,178.4" fill="#000" fill-opacity="0.6"/><polygon points="556.0,178.4 571.0,178.4 573.8,172.4 558.8,172.4" fill="#000" fill-opacity="0.6"/><polygon points="558.8,172.4 573.8,172.4 580.6,172.4 565.6,172.4" fill="#000" fill-opacity="0.6"/><polygon points="565.6,172.4 580.6,172.4 582.5,159.2 567.5,159.2" fill="#000" fill-opacity="0.6"/><polygon points="569.1,250.1 584.1,250.1 584.6,244.2 569.6,244.2" fill="#000" fill-opacity="0.6"/><polygon points="569.6,244.2 584.6,244.2 587.9,247.5 572.9,247.5" fill="#000" fill-opacity="0.6"/><polygon points="572.9,247.5 587.9,247.5 591.7,244.2 576.7,244.2" fill="#000" fill-opacity="0.6"/><polygon points="576.7,244.2 591.7,244.2 595.5,243.2 580.5,243.2" fill="#000" fill-opacity="0.6"/><polygon points="580.5,243.2 595.5,243.2 600.5,242.5 585.5,242.5" fill="#000" fill-opacity="0.6"/><polygon points="585.5,242.5 600.5,242.5 603.1,234.9 588.1,234.9" fill="#000" fill-opacity="0.6"/><polygon points="588.1,234.9 603.1,234.9 606.9,232.3 591.9,232.3" fill="#000" fill-opacity="0.6"/><polygon points="591.9,232.3 606.9,232.3 610.7,223.5 595.7,223.5" fill="#000" fill-opacity="0.6"/><polygon points="595.7,223.5 610.7,223.5 614.5,212.1 599.5,212.1" fill="#000" fill-opacity="0.6"/><polygon points="599.5,212.1 614.5,212.1 617.0,201.9 602.0,201.9" fill="#000" fill-opacity="0.6"/><polygon points="602.0,201.9 617.0,201.9 619.5,194.3 604.5,194.3" fill="#000" fill-opacity="0.6"/><polygon points="604.5,194.3 619.5,194.3 622.1,193.1 607.1,193.1" fill="#000" fill-opacity="0.6"/><polygon points="607.1,193.1 622.1,193.1 624.6,177.9 609.6,177.9" fill="#000" fill-opacity="0.6"/><polygon points="609.6,177.9 624.6,177.9 628.4,163.9 613.4,163.9" fill="#000" fill-opacity="0.6"/><polygon points="613.4,163.9 628.4,163.9 632.2,159.6 617.2,159.6" fill="#000" fill-opacity="0.6"/><polygon points="617.2,252.6 632.2,252.6 636.0,241.2 621.0,241.2" fill="#000" fill-opacity="0.6"/><polygon points="621.0,241.2 636.0,241.2 639.8,231.1 624.8,231.1" fill="#000" fill-opacity="0.6"/><polygon points="624.8,231.1 639.8,231.1 643.6,220.9 628.6,220.9" fill="#000" fill-opacity="0.6"/><polygon points="628.6,220.9 643.6,220.9 646.1,210.8 631.1,210.8" fill="#000" fill-opacity="0.6"/><polygon points="631.1,210.8 646.1,210.8 649.9,200.7 634.9,200.7" fill="#000" fill-opacity="0.6"/><polygon points="634.9,200.7 649.9,200.7 653.7,191.8 638.7,191.8" fill="#000" fill-opacity="0.6"/><polygon points="638.7,191.8 653.7,191.8 656.3,190.5 641.3,190.5" fill="#000" fill-opacity="0.6"/><polygon points="641.3,190.5 656.3,190.5 660.1,184.2 645.1,184.2" fill="#000" fill-opacity="0.6"/><polygon points="645.1,184.2 660.1,184.2 663.9,179.1 648.9,179.1" fill="#000" fill-opacity="0.6"/><polygon points="648.9,179.1 663.9,179.1 667.7,174.1 652.7,174.1" fill="#000" fill-opacity="0.6"/><polygon points="652.7,174.1 667.7,174.1 671.5,161.4 656.5,161.4" fill="#000" fill-opacity="0.6"/><polygon points="656.5,252.6 671.5,252.6 675.3,243.7 660.3,243.7" fill="#000" fill-opacity="0.6"/><polygon points="660.3,243.7 675.3,243.7 680.3,236.1 665.3,236.1" fill="#000" fill-opacity="0.6"/><polygon points="665.3,236.1 680.3,236.1 684.1,231.1 669.1,231.1" fill="#000" fill-opacity="0.6"/><polygon points="669.1,231.1 684.1,231.1 687.9,222.2 672.9,222.2" fill="#000" fill-opacity="0.6"/><polygon points="672.9,222.2 687.9,222.2 691.7,210.8 676.7,210.8" fill="#000" fill-opacity="0.6"/><polygon points="676.7,210.8 691.7,210.8 694.3,199.4 679.3,199.4" fill="#000" fill-opacity="0.6"/><polygon points="679.3,199.4 694.3,199.4 696.8,194.3 681.8,194.3" fill="#000" fill-opacity="0.6"/><polygon points="681.8,194.3 696.8,194.3 700.6,195.6 685.6,195.6" fill="#000" fill-opacity="0.6"/><polygon points="685.6,195.6 700.6,195.6 704.4,186.7 689.4,186.7" fill="#000" fill-opacity="0.6"/><polygon points="689.4,186.7 704.4,186.7 707.0,181.7 692.0,181.7" fill="#000" fill-opacity="0.6"/><polygon points="692.0,181.7 707.0,181.7 710.7,174.1 695.7,174.1" fill="#000" fill-opacity="0.6"/><polygon points="695.7,174.1 710.7,174.1 713.3,167.7 698.3,167.7" fill="#000" fill-opacity="0.6"/></g></g></svg><path d="M523.6 243.7 L528.5 243.7 L531.8 236.0 L537.3 222.3 L541.4 220.1 L545.6 210.0 L549.7 199.0 L553.8 190.8 L557.9 185.3 L562.0 178.4 L564.8 172.4 L571.6 172.4 L573.5 159.2" stroke="#e3242b" stroke-width="1.9" fill="none" stroke-linejoin="round"/><path d="M575.1 250.1 L575.6 244.2 L578.9 247.5 L582.7 244.2 L586.5 243.2 L591.5 242.5 L594.1 234.9 L597.9 232.3 L601.7 223.5 L605.5 212.1 L608.0 201.9 L610.5 194.3 L613.1 193.1 L615.6 177.9 L619.4 163.9 L623.2 159.6" stroke="#e3242b" stroke-width="1.9" fill="none" stroke-linejoin="round"/><path d="M623.2 252.6 L627.0 241.2 L630.8 231.1 L634.6 220.9 L637.1 210.8 L640.9 200.7 L644.7 191.8 L647.3 190.5 L651.1 184.2 L654.9 179.1 L658.7 174.1 L662.5 161.4" stroke="#e3242b" stroke-width="1.9" fill="none" stroke-linejoin="round"/><path d="M662.5 252.6 L666.3 243.7 L671.3 236.1 L675.1 231.1 L678.9 222.2 L682.7 210.8 L685.3 199.4 L687.8 194.3 L691.6 195.6 L695.4 186.7 L698.0 181.7 L701.7 174.1 L704.3 167.7" stroke="#e3242b" stroke-width="1.9" fill="none" stroke-linejoin="round"/><path d="M523.5 158.5 V252 H704.8 V158.5" stroke="#000" stroke-width="1" fill="none"/><path d="M524 175.1 h2" stroke="#000" stroke-width="0.8"/><path d="M524 233.9 h2" stroke="#000" stroke-width="0.8"/><path d="M704.3 160.1 h-2" stroke="#000" stroke-width="0.8"/><path d="M704.3 205.5 h-2" stroke="#000" stroke-width="0.8"/><path d="M724.1 230.6 V240" stroke="#e3242b" stroke-width="1.8"/><rect x="498.00" y="403.3" width="4.1" height="28.5" fill="#a7a9ac"/><rect x="503.05" y="311.8" width="4.1" height="120.0" fill="#a7a9ac"/><rect x="508.10" y="304.2" width="4.1" height="127.6" fill="#a7a9ac"/><rect x="513.15" y="385.6" width="4.1" height="46.2" fill="#a7a9ac"/><rect x="518.20" y="406.3" width="4.1" height="25.5" fill="#a7a9ac"/><rect x="523.25" y="410.3" width="4.1" height="21.5" fill="#a7a9ac"/><rect x="528.30" y="408.3" width="4.1" height="23.5" fill="#a7a9ac"/><rect x="533.35" y="423.6" width="4.1" height="8.2" fill="#a7a9ac"/><rect x="538.40" y="406.3" width="4.1" height="25.5" fill="#a7a9ac"/><rect x="543.45" y="418.1" width="4.1" height="13.7" fill="#a7a9ac"/><rect x="548.50" y="421.1" width="4.1" height="10.7" fill="#a7a9ac"/><rect x="553.55" y="426.9" width="4.1" height="4.9" fill="#a7a9ac"/><rect x="558.60" y="427.8" width="4.1" height="4.0" fill="#a7a9ac"/><rect x="563.65" y="427.8" width="4.1" height="4.0" fill="#a7a9ac"/><rect x="568.70" y="429.0" width="4.1" height="2.8" fill="#a7a9ac"/><path d="M493.6 301 V431.6 H578.5" stroke="#000" stroke-width="1" fill="none"/><path d="M494.5 301.4 h1.5" stroke="#000" stroke-width="0.8"/><path d="M494.5 366.7 h1.5" stroke="#000" stroke-width="0.8"/><path d="M509 431.5 v-1.5" stroke="#000" stroke-width="0.8"/><path d="M527.7 431.5 v-1.5" stroke="#000" stroke-width="0.8"/><path d="M546.4 431.5 v-1.5" stroke="#000" stroke-width="0.8"/><path d="M565.1 431.5 v-1.5" stroke="#000" stroke-width="0.8"/><rect x="645.30" y="301.8" width="3.9" height="129.6" fill="#a7a9ac"/><rect x="650.01" y="358.4" width="3.9" height="73.0" fill="#a7a9ac"/><rect x="654.72" y="364.3" width="3.9" height="67.1" fill="#a7a9ac"/><rect x="659.43" y="375.7" width="3.9" height="55.7" fill="#a7a9ac"/><rect x="664.14" y="384.8" width="3.9" height="46.6" fill="#a7a9ac"/><rect x="668.85" y="391.2" width="3.9" height="40.2" fill="#a7a9ac"/><rect x="673.56" y="395.3" width="3.9" height="36.1" fill="#a7a9ac"/><rect x="678.27" y="406.8" width="3.9" height="24.6" fill="#a7a9ac"/><rect x="682.98" y="415.9" width="3.9" height="15.5" fill="#a7a9ac"/><rect x="692.40" y="415.9" width="3.9" height="15.5" fill="#a7a9ac"/><rect x="701.82" y="400.3" width="3.9" height="31.1" fill="#a7a9ac"/><rect x="720.66" y="415.9" width="3.9" height="15.5" fill="#a7a9ac"/><path d="M641.6 301 V431.5 H765.5" stroke="#000" stroke-width="1" fill="none"/><path d="M642.5 431.4 h1.6" stroke="#000" stroke-width="0.6"/><path d="M642.5 415.9 h0.9" stroke="#000" stroke-width="0.6"/><path d="M642.5 406.8 h0.9" stroke="#000" stroke-width="0.6"/><path d="M642.5 400.3 h0.9" stroke="#000" stroke-width="0.6"/><path d="M642.5 395.3 h0.9" stroke="#000" stroke-width="0.6"/><path d="M642.5 391.2 h0.9" stroke="#000" stroke-width="0.6"/><path d="M642.5 387.8 h0.9" stroke="#000" stroke-width="0.6"/><path d="M642.5 384.8 h0.9" stroke="#000" stroke-width="0.6"/><path d="M642.5 382.2 h0.9" stroke="#000" stroke-width="0.6"/><path d="M642.5 379.8 h1.6" stroke="#000" stroke-width="0.6"/><path d="M642.5 364.3 h0.9" stroke="#000" stroke-width="0.6"/><path d="M642.5 355.2 h0.9" stroke="#000" stroke-width="0.6"/><path d="M642.5 348.7 h0.9" stroke="#000" stroke-width="0.6"/><path d="M642.5 343.7 h0.9" stroke="#000" stroke-width="0.6"/><path d="M642.5 339.6 h0.9" stroke="#000" stroke-width="0.6"/><path d="M642.5 336.2 h0.9" stroke="#000" stroke-width="0.6"/><path d="M642.5 333.2 h0.9" stroke="#000" stroke-width="0.6"/><path d="M642.5 330.6 h0.9" stroke="#000" stroke-width="0.6"/><path d="M642.5 328.2 h1.6" stroke="#000" stroke-width="0.6"/><path d="M642.5 312.7 h0.9" stroke="#000" stroke-width="0.6"/><path d="M642.5 303.6 h0.9" stroke="#000" stroke-width="0.6"/><path d="M646.5 431 v-1.5" stroke="#000" stroke-width="0.8"/><path d="M670.3 431 v-1.5" stroke="#000" stroke-width="0.8"/><path d="M694.1 431 v-1.5" stroke="#000" stroke-width="0.8"/><path d="M717.9 431 v-1.5" stroke="#000" stroke-width="0.8"/><path d="M741.7 431 v-1.5" stroke="#000" stroke-width="0.8"/><path d="M765.5 431 v-1.5" stroke="#000" stroke-width="0.8"/>
<g opacity="0.999" stroke="#231f20" stroke-width="0.22" stroke-opacity="0.6"><text x="0.5" y="10.8" font-size="13.5" text-anchor="start" font-weight="bold" fill="#000" >a</text><text x="230.1" y="12" font-size="8.3" text-anchor="middle" fill="#231f20" >Correlations</text><text x="413.6" y="14.8" font-size="8.3" text-anchor="end" fill="#231f20" >Mouse 60584, session 7</text><text x="0.5" y="131" font-size="13.5" text-anchor="start" font-weight="bold" fill="#000" >b</text><text x="230.1" y="131.8" font-size="8.3" text-anchor="middle" fill="#231f20" >PCA</text><text x="37.3" y="32.2" font-size="8.4" text-anchor="end" fill="#231f20" >400</text><text x="37.3" y="63.5" font-size="8.4" text-anchor="end" fill="#231f20" >200</text><text x="18.5" y="54" font-size="8.2" text-anchor="middle" transform="rotate(-90 18.5 54)" fill="#231f20" >Neuron no.</text><text x="41.0" y="101" font-size="8.4" text-anchor="middle" fill="#231f20" >0</text><text x="94.55" y="101" font-size="8.4" text-anchor="middle" fill="#231f20" >500</text><text x="148.1" y="101" font-size="8.4" text-anchor="middle" fill="#231f20" >1,000</text><text x="201.64999999999998" y="101" font-size="8.4" text-anchor="middle" fill="#231f20" >1,500</text><text x="255.2" y="101" font-size="8.4" text-anchor="middle" fill="#231f20" >2,000</text><text x="308.75" y="101" font-size="8.4" text-anchor="middle" fill="#231f20" >2,500</text><text x="362.29999999999995" y="101" font-size="8.4" text-anchor="middle" fill="#231f20" >3,000</text><text x="227" y="113" font-size="8.2" text-anchor="middle" fill="#231f20" >Time (s)</text><text x="37.3" y="150.7" font-size="8.4" text-anchor="end" fill="#231f20" >400</text><text x="37.3" y="182.0" font-size="8.4" text-anchor="end" fill="#231f20" >200</text><text x="18.5" y="172.5" font-size="8.2" text-anchor="middle" transform="rotate(-90 18.5 172.5)" fill="#231f20" >Neuron no.</text><text x="41.0" y="219.5" font-size="8.4" text-anchor="middle" fill="#231f20" >0</text><text x="94.55" y="219.5" font-size="8.4" text-anchor="middle" fill="#231f20" >500</text><text x="148.1" y="219.5" font-size="8.4" text-anchor="middle" fill="#231f20" >1,000</text><text x="201.64999999999998" y="219.5" font-size="8.4" text-anchor="middle" fill="#231f20" >1,500</text><text x="255.2" y="219.5" font-size="8.4" text-anchor="middle" fill="#231f20" >2,000</text><text x="308.75" y="219.5" font-size="8.4" text-anchor="middle" fill="#231f20" >2,500</text><text x="362.29999999999995" y="219.5" font-size="8.4" text-anchor="middle" fill="#231f20" >3,000</text><text x="227" y="231.5" font-size="8.2" text-anchor="middle" fill="#231f20" >Time (s)</text><text x="0.5" y="251.8" font-size="13.5" text-anchor="start" font-weight="bold" fill="#000" >e</text><text x="230" y="249.9" font-size="8.3" text-anchor="middle" fill="#231f20" >PCA on fluorescence signal</text><text x="37.3" y="269.2" font-size="8.4" text-anchor="end" fill="#231f20" >400</text><text x="37.3" y="300.5" font-size="8.4" text-anchor="end" fill="#231f20" >200</text><text x="18.5" y="291.5" font-size="8.2" text-anchor="middle" transform="rotate(-90 18.5 291.5)" fill="#231f20" >Neuron no.</text><text x="41.0" y="337.5" font-size="8.4" text-anchor="middle" fill="#231f20" >0</text><text x="94.55" y="337.5" font-size="8.4" text-anchor="middle" fill="#231f20" >500</text><text x="148.1" y="337.5" font-size="8.4" text-anchor="middle" fill="#231f20" >1,000</text><text x="201.64999999999998" y="337.5" font-size="8.4" text-anchor="middle" fill="#231f20" >1,500</text><text x="255.2" y="337.5" font-size="8.4" text-anchor="middle" fill="#231f20" >2,000</text><text x="308.75" y="337.5" font-size="8.4" text-anchor="middle" fill="#231f20" >2,500</text><text x="362.29999999999995" y="337.5" font-size="8.4" text-anchor="middle" fill="#231f20" >3,000</text><text x="227" y="349.5" font-size="8.2" text-anchor="middle" fill="#231f20" >Time (s)</text><text x="431.6" y="257.9" font-size="8.2" text-anchor="start" fill="#231f20" >3</text><text x="431.6" y="282.0" font-size="8.2" text-anchor="start" fill="#231f20" >2</text><text x="431.6" y="305.2" font-size="8.2" text-anchor="start" fill="#231f20" >1</text><text x="431.6" y="328.59999999999997" font-size="8.2" text-anchor="start" fill="#231f20" >0</text><text x="449.3" y="290.5" font-size="8.3" text-anchor="middle" fill="#231f20" transform="rotate(-90 449.3 290.5)"><tspan font-style="italic">z</tspan>-scored fluorescence</text><text x="0.5" y="370.2" font-size="13.5" text-anchor="start" font-weight="bold" fill="#000" >f</text><text x="230.5" y="371.4" font-size="8.3" text-anchor="middle" fill="#231f20" >PCA on Neuropixels data</text><text x="411.4" y="372.9" font-size="8.3" text-anchor="end" fill="#231f20" >Mouse 104638, session 1</text><text x="37.3" y="390.59999999999997" font-size="8.4" text-anchor="end" fill="#231f20" >400</text><text x="37.3" y="421.9" font-size="8.4" text-anchor="end" fill="#231f20" >200</text><text x="18.5" y="412.5" font-size="8.2" text-anchor="middle" transform="rotate(-90 18.5 412.5)" fill="#231f20" >Unit no.</text><text x="41.0" y="460" font-size="8.4" text-anchor="middle" fill="#231f20" >0</text><text x="89.45" y="460" font-size="8.4" text-anchor="middle" fill="#231f20" >200</text><text x="137.9" y="460" font-size="8.4" text-anchor="middle" fill="#231f20" >400</text><text x="186.35000000000002" y="460" font-size="8.4" text-anchor="middle" fill="#231f20" >600</text><text x="234.8" y="460" font-size="8.4" text-anchor="middle" fill="#231f20" >800</text><text x="283.25" y="460" font-size="8.4" text-anchor="middle" fill="#231f20" >1,000</text><text x="331.70000000000005" y="460" font-size="8.4" text-anchor="middle" fill="#231f20" >1,200</text><text x="380.15000000000003" y="460" font-size="8.4" text-anchor="middle" fill="#231f20" >1,400</text><text x="227" y="472.2" font-size="8.2" text-anchor="middle" fill="#231f20" >Time (s)</text><text x="461" y="16.6" font-size="13.5" text-anchor="start" font-weight="bold" fill="#000" >c</text><text x="484.2" y="66.2" font-size="8.3" text-anchor="middle" transform="rotate(-90 484.2 66.2)" fill="#231f20" >PC2</text><text x="545.4" y="125.5" font-size="8.3" text-anchor="middle" fill="#231f20" >PC1</text><text x="610.8" y="64.4" font-size="8.3" text-anchor="middle" transform="rotate(-90 610.8 64.4)" fill="#231f20" >LEM dimension 2</text><text x="669.8" y="125.5" font-size="8.3" text-anchor="middle" fill="#231f20" >LEM dimension 1</text><text x="735" y="18.3" font-size="8.4" text-anchor="middle" fill="#231f20" >3,600</text><text x="735" y="113.6" font-size="8.4" text-anchor="middle" fill="#231f20" >0</text><text x="751.2" y="64.4" font-size="8.3" text-anchor="middle" transform="rotate(-90 751.2 64.4)" fill="#231f20" >Time (s)</text><text x="461" y="152.3" font-size="13.5" text-anchor="start" font-weight="bold" fill="#000" >d</text><text x="520.3" y="178.0" font-size="8.4" text-anchor="end" fill="#231f20" >400</text><text x="520.3" y="236.8" font-size="8.4" text-anchor="end" fill="#231f20" >100</text><text x="499.5" y="204.5" font-size="8.2" text-anchor="middle" transform="rotate(-90 499.5 204.5)" fill="#231f20" >Neuron no.</text><text x="568" y="263" font-size="8.2" text-anchor="middle" fill="#231f20" >2,800</text><text x="647" y="263" font-size="8.2" text-anchor="middle" fill="#231f20" >3,000</text><text x="610.2" y="269.6" font-size="8.2" text-anchor="middle" fill="#231f20" >Time (s)</text><text x="707.6" y="162.9" font-size="8.2" text-anchor="start" fill="#231f20" >π</text><text x="707.6" y="208.3" font-size="8.2" text-anchor="start" fill="#231f20" >0</text><text x="706.8" y="255.3" font-size="8.2" text-anchor="start" fill="#231f20" >−π</text><text x="727.6" y="200.7" font-size="8.3" text-anchor="middle" transform="rotate(-90 727.6 200.7)" fill="#231f20" >Phase of the</text><text x="738.3" y="200.7" font-size="8.3" text-anchor="middle" transform="rotate(-90 738.3 200.7)" fill="#231f20" >oscillation (rad)</text><text x="461.5" y="290.2" font-size="13.5" text-anchor="start" font-weight="bold" fill="#000" >g</text><text x="490.4" y="305.8" font-size="8.4" text-anchor="end" fill="#231f20" >120</text><text x="490.4" y="370.2" font-size="8.4" text-anchor="end" fill="#231f20" >60</text><text x="490.4" y="436.1" font-size="8.4" text-anchor="end" fill="#231f20" >0</text><text x="469.7" y="365.4" font-size="8.2" text-anchor="middle" transform="rotate(-90 469.7 365.4)" fill="#231f20" >Count</text><text x="494.2" y="444.8" font-size="8.4" text-anchor="middle" fill="#231f20" >0</text><text x="529.4" y="444.8" font-size="8.4" text-anchor="middle" fill="#231f20" >100</text><text x="566.4" y="444.8" font-size="8.4" text-anchor="middle" fill="#231f20" >200</text><text x="535" y="460.3" font-size="8.2" text-anchor="middle" fill="#231f20" >Sequence duration (s)</text><text x="607.5" y="291" font-size="13.5" text-anchor="start" font-weight="bold" fill="#000" >h</text><text x="646.5" y="444.8" font-size="8.4" text-anchor="middle" fill="#231f20" >0</text><text x="670.3" y="444.8" font-size="8.4" text-anchor="middle" fill="#231f20" >100</text><text x="694.1" y="444.8" font-size="8.4" text-anchor="middle" fill="#231f20" >200</text><text x="717.9" y="444.8" font-size="8.4" text-anchor="middle" fill="#231f20" >300</text><text x="741.7" y="444.8" font-size="8.4" text-anchor="middle" fill="#231f20" >400</text><text x="765.5" y="444.8" font-size="8.4" text-anchor="middle" fill="#231f20" >500</text><text x="638" y="435.09999999999997" font-size="7.6" text-anchor="end" fill="#231f20">10<tspan dy="-3.2" font-size="5">0</tspan></text><text x="638" y="383.29999999999995" font-size="7.6" text-anchor="end" fill="#231f20">10<tspan dy="-3.2" font-size="5">1</tspan></text><text x="638" y="331.7" font-size="7.6" text-anchor="end" fill="#231f20">10<tspan dy="-3.2" font-size="5">2</tspan></text><text x="618.2" y="365.4" font-size="8.2" text-anchor="middle" transform="rotate(-90 618.2 365.4)" fill="#231f20" >Count</text><text x="703.9" y="459.2" font-size="8.2" text-anchor="middle" fill="#231f20" >ISI (s)</text></g>
</svg></body></html>
